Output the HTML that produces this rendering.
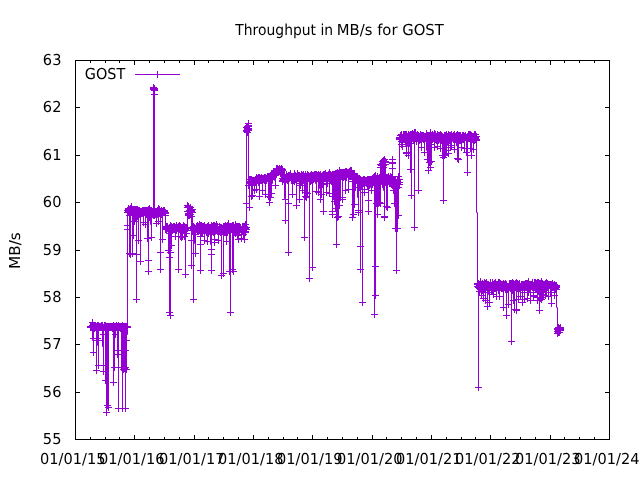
<!DOCTYPE html>
<html><head><meta charset="utf-8"><title>Throughput in MB/s for GOST</title>
<style>html,body{margin:0;padding:0;background:#fff}svg{display:block}text{font-family:"DejaVu Sans","Liberation Sans",sans-serif;font-size:15.1px;fill:#000;text-rendering:geometricPrecision}</style></head>
<body>
<svg width="640" height="480" viewBox="0 0 640 480">
<rect width="640" height="480" fill="#fff"/>
<g fill="none" stroke="#000" stroke-width="1" shape-rendering="crispEdges"><path d="M75.5 439.5v-4.5M75.5 60.5v4.5M134.5 439.5v-4.5M134.5 60.5v4.5M194.5 439.5v-4.5M194.5 60.5v4.5M253.5 439.5v-4.5M253.5 60.5v4.5M312.5 439.5v-4.5M312.5 60.5v4.5M372.5 439.5v-4.5M372.5 60.5v4.5M431.5 439.5v-4.5M431.5 60.5v4.5M490.5 439.5v-4.5M490.5 60.5v4.5M550.5 439.5v-4.5M550.5 60.5v4.5M609.5 439.5v-4.5M609.5 60.5v4.5M90.5 439.5v-2.5M90.5 60.5v2.5M105.5 439.5v-2.5M105.5 60.5v2.5M119.5 439.5v-2.5M119.5 60.5v2.5M149.5 439.5v-2.5M149.5 60.5v2.5M164.5 439.5v-2.5M164.5 60.5v2.5M179.5 439.5v-2.5M179.5 60.5v2.5M208.5 439.5v-2.5M208.5 60.5v2.5M223.5 439.5v-2.5M223.5 60.5v2.5M238.5 439.5v-2.5M238.5 60.5v2.5M268.5 439.5v-2.5M268.5 60.5v2.5M283.5 439.5v-2.5M283.5 60.5v2.5M297.5 439.5v-2.5M297.5 60.5v2.5M327.5 439.5v-2.5M327.5 60.5v2.5M342.5 439.5v-2.5M342.5 60.5v2.5M357.5 439.5v-2.5M357.5 60.5v2.5M386.5 439.5v-2.5M386.5 60.5v2.5M401.5 439.5v-2.5M401.5 60.5v2.5M416.5 439.5v-2.5M416.5 60.5v2.5M446.5 439.5v-2.5M446.5 60.5v2.5M461.5 439.5v-2.5M461.5 60.5v2.5M475.5 439.5v-2.5M475.5 60.5v2.5M505.5 439.5v-2.5M505.5 60.5v2.5M520.5 439.5v-2.5M520.5 60.5v2.5M535.5 439.5v-2.5M535.5 60.5v2.5M564.5 439.5v-2.5M564.5 60.5v2.5M579.5 439.5v-2.5M579.5 60.5v2.5M594.5 439.5v-2.5M594.5 60.5v2.5M75.5 439.5h4.5M609.5 439.5h-4.5M75.5 392.5h4.5M609.5 392.5h-4.5M75.5 344.5h4.5M609.5 344.5h-4.5M75.5 297.5h4.5M609.5 297.5h-4.5M75.5 250.5h4.5M609.5 250.5h-4.5M75.5 202.5h4.5M609.5 202.5h-4.5M75.5 155.5h4.5M609.5 155.5h-4.5M75.5 107.5h4.5M609.5 107.5h-4.5M75.5 60.5h4.5M609.5 60.5h-4.5"/><rect x="75.5" y="60.5" width="534" height="379"/></g>
<text transform="translate(42.85,444) scale(0.967,1)">55</text>
<text transform="translate(42.85,397) scale(0.967,1)">56</text>
<text transform="translate(42.85,349) scale(0.967,1)">57</text>
<text transform="translate(42.85,302) scale(0.967,1)">58</text>
<text transform="translate(42.85,255) scale(0.967,1)">59</text>
<text transform="translate(42.85,207) scale(0.967,1)">60</text>
<text transform="translate(42.85,160) scale(0.967,1)">61</text>
<text transform="translate(42.85,112) scale(0.967,1)">62</text>
<text transform="translate(42.85,65) scale(0.967,1)">63</text>
<text transform="translate(39.9,464) scale(0.967,1)">01/01/15</text>
<text transform="translate(98.9,464) scale(0.967,1)">01/01/16</text>
<text transform="translate(158.9,464) scale(0.967,1)">01/01/17</text>
<text transform="translate(217.9,464) scale(0.967,1)">01/01/18</text>
<text transform="translate(276.9,464) scale(0.967,1)">01/01/19</text>
<text transform="translate(336.9,464) scale(0.967,1)">01/01/20</text>
<text transform="translate(395.9,464) scale(0.967,1)">01/01/21</text>
<text transform="translate(454.9,464) scale(0.967,1)">01/01/22</text>
<text transform="translate(514.9,464) scale(0.967,1)">01/01/23</text>
<text transform="translate(573.9,464) scale(0.967,1)">01/01/24</text>
<text transform="translate(235.3,35) scale(0.921,1)">Throughput in</text>
<text transform="translate(336.8,35) scale(0.981,1)">MB/s for GOST</text>
<text transform="translate(20,268.9) rotate(-90) scale(1.01,1)">MB/s</text>
<text transform="translate(84.85,79) scale(0.955,1)">GOST</text>
<g fill="none" stroke="#9400d3" stroke-width="1">
<path d="M135 74.5H180M157.5 71v7"/>
<path stroke-linejoin="bevel" d="M90.5 326.5V327.5V326.5H91.5V327.5H92.5V325.5V327.5V322.5V327.5V340.5H93.5V352.5V325.5V326.5V338.5V327.5V326.5V327.5H94.5V327.5V326.5V327.5V326.5V328.5V328.5H95.5V327.5V326.5V327.5H96.5V327.5V326.5V370.5V326.5V340.5V333.5H97.5V326.5V327.5V338.5V325.5V326.5V327.5V325.5V345.5H98.5V365.5V326.5V340.5V326.5V325.5V326.5H99.5V327.5V326.5H100.5V327.5V326.5H101.5V327.5V325.5V327.5H102.5V325.5V327.5V326.5V346.5H103.5V365.5V334.5V327.5V371.5V327.5H104.5V325.5V327.5V326.5H105.5V325.5V326.5V327.5V380.5V326.5V327.5V327.5H106.5V326.5V412.5V327.5V326.5V327.5V327.5H107.5V326.5V405.5V326.5V327.5V326.5H108.5V327.5V407.5V326.5H109.5V327.5V326.5V327.5V326.5H110.5V327.5V326.5V327.5H111.5V327.5V326.5V327.5V326.5V327.5H112.5V328.5V327.5V326.5V327.5H113.5V327.5V326.5V382.5V328.5V325.5V326.5V327.5H114.5V327.5V326.5V367.5V327.5V327.5H115.5V326.5V334.5V327.5V326.5H116.5V325.5V326.5V327.5V326.5V327.5H117.5V354.5V326.5V327.5H118.5V325.5V408.5V350.5V327.5V325.5V326.5H119.5V327.5V326.5V327.5V326.5H120.5V327.5V326.5V328.5V326.5V327.5H121.5V327.5V326.5V367.5V327.5V326.5H122.5V325.5V408.5V326.5V325.5V326.5H123.5V327.5V369.5V326.5V327.5V348.5H124.5V368.5V326.5V327.5V326.5V347.5H125.5V367.5V350.5V326.5V408.5V327.5V327.5H126.5V326.5V327.5V369.5V327.5V326.5V340.5V334.5H127.5V327.5V326.5V210.5V225.5V229.5V212.5V210.5H128.5V208.5V210.5V211.5V209.5V210.5V208.5V209.5H129.5V210.5V211.5V209.5V253.5V215.5V211.5H130.5V209.5V254.5V211.5V210.5V208.5V210.5H131.5V211.5V209.5V208.5V210.5V206.5V210.5V211.5H132.5V211.5V210.5V253.5V209.5V214.5V210.5V211.5H133.5V211.5V235.5V212.5V211.5V210.5H134.5V209.5V221.5V212.5V211.5V214.5H135.5V217.5V209.5V211.5V214.5V210.5V211.5V211.5H136.5V210.5V209.5V254.5V299.5V210.5V211.5V214.5H137.5V216.5V209.5V211.5V212.5H138.5V210.5V240.5V213.5V216.5V211.5H139.5V214.5V213.5V212.5V210.5V213.5V212.5H140.5V211.5V261.5V211.5V214.5V213.5V214.5V214.5H141.5V213.5V211.5V213.5V212.5V213.5V212.5H142.5V211.5V212.5V213.5V210.5V212.5V213.5V213.5H143.5V212.5V213.5V222.5V210.5V215.5V213.5H144.5V211.5V210.5V211.5V212.5H145.5V212.5V210.5V212.5V224.5V214.5V213.5V212.5H146.5V210.5V214.5V211.5V210.5V214.5V213.5V212.5H147.5V211.5V210.5V238.5V212.5V210.5V211.5H148.5V211.5V214.5V212.5V271.5V260.5V209.5V210.5H149.5V210.5V212.5V213.5V217.5V213.5V208.5V212.5V214.5H150.5V215.5V213.5V212.5V210.5V224.5H151.5V237.5V215.5V210.5V212.5V211.5V216.5V212.5V212.5H152.5V211.5V213.5V211.5V214.5V211.5V212.5H153.5V212.5V211.5V215.5V88.5V89.5V87.5V89.5H154.5V90.5V89.5V88.5V94.5V212.5V215.5V214.5H155.5V213.5V211.5V213.5V211.5V214.5V211.5V212.5H156.5V212.5V213.5V211.5V223.5V211.5V213.5V212.5V212.5H157.5V211.5V213.5V210.5V212.5V211.5V212.5V217.5H158.5V221.5V213.5V212.5V213.5V208.5V213.5V213.5H159.5V212.5V211.5V212.5V213.5V209.5V211.5H160.5V212.5V269.5V214.5V252.5V214.5V212.5V213.5H161.5V213.5V210.5V211.5V214.5V213.5V212.5V213.5H162.5V213.5V239.5V214.5V211.5V212.5V213.5V212.5H163.5V211.5V212.5V210.5V212.5V211.5H164.5V210.5V211.5V212.5V211.5V210.5V213.5H165.5V215.5V212.5V213.5V228.5V229.5V229.5H166.5V228.5V229.5V226.5V227.5V228.5V229.5V229.5H167.5V228.5V227.5V226.5V228.5H168.5V229.5V228.5V250.5V230.5V228.5V231.5H169.5V233.5V257.5V229.5V227.5V312.5V227.5V230.5V230.5H170.5V229.5V315.5V225.5V228.5V227.5V252.5V240.5H171.5V228.5V229.5V245.5V226.5V227.5V229.5V230.5H172.5V230.5V228.5V230.5V227.5V228.5V228.5H173.5V227.5V228.5V227.5V226.5V229.5V228.5H174.5V226.5V229.5V228.5V227.5V229.5V229.5H175.5V228.5V236.5V229.5V228.5V227.5V228.5H176.5V229.5V230.5V226.5V229.5V228.5V225.5V227.5H177.5V228.5H178.5V227.5V269.5V226.5V227.5V227.5H179.5V226.5V228.5V227.5V225.5V229.5V228.5V232.5H180.5V236.5V226.5V229.5V228.5V228.5H181.5V227.5V237.5V228.5V227.5V228.5V228.5H182.5V227.5V236.5V227.5V229.5V227.5V228.5V227.5V228.5H183.5V228.5V227.5V226.5V227.5V229.5V225.5V228.5H184.5V230.5V228.5V226.5V236.5V226.5V227.5H185.5V228.5V274.5V230.5V228.5V229.5V228.5H186.5V227.5V228.5V233.5V228.5V227.5V228.5H187.5V228.5V211.5V207.5V205.5V211.5V212.5H188.5V213.5V206.5V214.5V215.5V213.5V212.5H189.5V211.5V214.5V215.5V213.5V214.5V210.5V210.5H190.5V209.5V207.5V209.5V214.5V213.5H191.5V211.5V265.5V216.5V211.5V240.5V210.5V210.5H192.5V209.5V212.5V230.5V228.5V229.5H193.5V229.5V226.5V227.5V299.5V229.5H194.5V227.5V228.5V232.5V243.5H195.5V253.5V231.5V229.5V234.5V230.5V229.5V230.5V228.5H196.5V226.5V228.5V229.5V228.5V227.5H197.5V225.5V229.5V231.5V229.5V227.5V225.5V226.5H198.5V226.5V228.5V231.5V229.5V228.5H199.5V224.5V230.5V227.5V226.5V226.5H200.5V225.5V270.5V244.5V230.5V236.5V231.5V230.5H201.5V229.5V232.5V229.5V230.5V225.5V228.5H202.5V230.5V231.5V233.5V226.5V229.5V226.5H203.5V229.5V228.5V230.5V228.5V228.5H204.5V227.5V225.5V240.5V225.5V230.5V227.5V228.5H205.5V228.5V230.5V227.5V229.5V228.5V229.5V228.5H206.5V227.5V229.5V227.5V229.5V232.5V228.5H207.5V229.5V226.5V241.5V232.5V228.5V231.5H208.5V233.5V230.5V228.5V229.5V225.5V228.5V229.5H209.5V230.5V228.5V227.5V228.5V229.5V230.5V230.5H210.5V229.5V228.5V227.5V231.5V234.5V244.5H211.5V254.5V270.5V249.5V225.5V228.5V229.5H212.5V230.5V229.5V226.5V228.5V227.5V227.5H213.5V226.5V230.5V229.5V232.5V227.5V225.5V226.5H214.5V227.5V229.5V225.5V230.5V239.5V242.5V234.5H215.5V226.5V230.5V227.5V226.5V229.5V228.5V229.5V227.5H216.5V224.5V226.5V227.5V226.5V230.5V229.5H217.5V228.5V229.5V227.5V230.5V231.5V226.5V228.5H218.5V230.5V240.5V232.5V229.5V232.5V231.5H219.5V226.5V229.5V227.5V231.5V227.5V228.5H220.5V229.5V227.5V230.5V232.5V231.5H221.5V229.5V228.5V231.5V275.5V227.5V232.5V231.5H222.5V230.5V231.5V228.5V229.5V230.5V231.5H223.5V231.5V232.5V231.5V273.5V231.5V226.5V227.5H224.5V228.5V226.5V230.5V227.5V232.5V230.5V228.5H225.5V226.5V229.5V232.5V229.5V227.5V225.5V227.5H226.5V229.5V228.5V231.5V241.5V226.5V233.5V231.5H227.5V229.5V228.5V226.5V232.5V225.5V228.5V227.5H228.5V226.5V230.5V229.5V227.5V223.5V228.5V229.5H229.5V230.5V226.5V271.5V229.5V231.5V229.5H230.5V227.5V231.5V227.5V312.5V226.5V227.5H231.5V229.5V227.5V228.5H232.5V228.5V230.5V269.5V229.5V225.5V227.5H233.5V228.5V225.5V271.5V228.5V229.5V232.5V231.5H234.5V229.5V228.5V232.5V229.5H235.5V233.5V226.5V224.5V230.5V231.5V228.5V229.5H236.5V230.5V229.5V231.5V227.5V226.5V230.5V229.5H237.5V227.5V231.5V226.5V231.5V235.5V228.5V229.5H238.5V229.5V227.5V239.5V226.5V230.5V227.5V229.5H239.5V231.5V227.5V226.5V230.5V232.5V229.5V228.5H240.5V227.5V228.5V227.5V229.5V227.5V228.5H241.5V229.5V231.5V229.5V230.5V238.5V229.5H242.5V231.5V226.5V228.5V229.5V230.5V227.5V228.5H243.5V228.5V234.5V230.5V226.5V227.5V229.5H244.5V231.5V239.5V227.5V229.5V226.5V231.5V228.5H245.5V224.5V231.5V229.5V224.5V232.5V228.5V229.5H246.5V229.5V203.5V227.5V127.5V130.5V131.5V130.5H247.5V128.5V132.5V130.5V128.5V126.5V129.5V126.5H248.5V123.5V125.5V126.5V128.5V130.5V129.5V185.5V183.5H249.5V181.5V183.5V179.5V207.5V181.5V180.5H250.5V179.5V181.5V182.5V181.5H251.5V196.5V180.5V183.5V179.5V180.5V181.5H252.5V181.5V180.5V195.5V180.5V181.5V181.5H253.5V180.5V182.5V181.5V182.5V180.5V181.5H254.5V182.5V180.5V190.5V181.5V180.5V181.5H255.5V182.5V180.5V179.5V180.5V182.5V182.5H256.5V181.5V189.5V177.5V180.5V179.5H257.5V178.5V179.5V178.5V179.5V180.5V179.5H258.5V178.5V179.5V178.5V177.5V179.5V182.5V181.5H259.5V179.5V180.5V196.5V181.5V178.5V177.5V178.5H260.5V178.5V179.5V178.5V179.5V180.5H261.5V177.5V180.5V178.5V177.5V178.5H262.5V179.5V190.5V178.5V179.5H263.5V179.5V178.5V179.5V178.5V179.5H264.5V180.5V177.5V178.5V177.5H265.5V179.5V194.5V179.5V179.5H266.5V178.5V179.5V178.5V180.5V179.5V178.5H267.5V176.5V177.5V176.5V178.5V177.5H268.5V176.5V179.5V196.5V177.5V181.5V178.5H269.5V202.5V178.5H270.5V197.5V175.5V177.5V175.5V177.5V176.5H271.5V175.5V177.5V173.5V176.5V193.5V183.5H272.5V173.5V175.5V176.5V174.5V177.5V176.5V175.5H273.5V173.5V176.5V174.5V176.5V174.5H274.5V172.5V175.5V171.5V174.5V175.5V180.5H275.5V185.5V172.5V174.5V175.5V172.5V171.5V173.5V174.5H276.5V174.5V170.5V169.5V168.5V172.5V170.5V171.5H277.5V172.5V169.5V170.5V168.5V169.5V170.5V170.5H278.5V169.5V170.5V169.5V171.5V170.5H279.5V169.5V168.5V169.5V170.5H280.5V171.5V169.5V171.5V170.5V171.5V173.5H281.5V174.5V169.5V168.5V171.5V174.5V172.5H282.5V169.5V170.5V169.5V181.5V178.5V180.5V178.5H283.5V175.5V179.5V176.5V175.5V179.5V178.5V177.5H284.5V175.5V178.5V176.5V179.5V176.5V198.5H285.5V220.5V199.5V178.5V177.5V178.5V179.5H286.5V179.5V177.5V176.5V177.5V176.5V174.5V177.5H287.5V180.5V176.5V177.5V176.5V177.5H288.5V178.5V203.5V252.5V176.5V180.5V175.5V177.5V178.5H289.5V178.5V176.5V175.5V176.5V178.5V177.5H290.5V175.5V177.5V173.5V177.5V177.5H291.5V176.5V178.5V177.5V180.5V177.5V178.5V178.5H292.5V177.5V176.5V177.5V179.5V194.5V180.5V179.5H293.5V177.5V179.5V180.5V177.5V180.5V179.5H294.5V177.5V176.5V177.5V181.5V173.5V176.5H295.5V179.5V178.5V175.5V178.5V177.5V177.5H296.5V176.5V177.5V179.5V205.5V176.5V177.5V178.5H297.5V178.5V176.5V173.5V178.5V177.5H298.5V176.5V178.5V175.5V176.5V175.5V177.5V177.5H299.5V176.5V177.5V199.5V176.5V175.5V176.5H300.5V177.5V183.5V177.5V176.5V185.5V182.5H301.5V179.5V174.5V181.5V178.5V176.5V178.5V184.5H302.5V190.5V176.5V177.5V175.5V176.5V178.5V179.5H303.5V180.5V176.5V178.5V174.5V175.5V177.5V177.5H304.5V176.5V237.5V178.5V183.5V179.5V178.5H305.5V177.5V175.5V196.5V175.5V174.5V175.5H306.5V176.5V179.5V192.5V178.5V181.5V197.5V188.5H307.5V179.5V176.5V193.5V174.5V177.5H308.5V176.5V177.5V175.5V176.5V177.5H309.5V177.5V176.5V177.5V278.5V178.5V176.5H310.5V178.5V175.5V181.5V181.5H311.5V180.5V178.5V175.5V174.5V176.5V178.5V179.5H312.5V180.5V177.5V178.5V267.5V175.5V180.5V178.5H313.5V175.5V179.5V178.5V177.5V177.5H314.5V176.5V174.5V176.5V178.5V175.5V176.5H315.5V177.5V176.5V175.5V174.5V183.5H316.5V191.5V178.5V177.5V180.5V174.5V176.5V175.5V177.5H317.5V178.5V175.5V178.5V177.5V176.5V175.5H318.5V174.5V192.5V179.5V177.5H319.5V178.5V175.5V176.5V179.5V177.5V188.5H320.5V199.5V174.5V176.5V180.5V176.5V175.5V185.5H321.5V194.5V177.5V176.5V177.5V179.5V177.5V181.5H322.5V184.5V175.5V177.5V176.5V175.5H323.5V174.5V211.5V176.5V178.5V177.5V177.5H324.5V176.5V177.5V178.5V176.5V174.5V175.5H325.5V175.5V176.5V177.5V178.5V176.5V173.5V175.5H326.5V176.5V177.5V178.5V192.5V180.5V179.5V178.5H327.5V177.5V176.5V183.5V175.5V176.5V177.5H328.5V176.5V174.5V176.5V175.5V176.5H329.5V174.5V193.5V172.5V178.5V177.5H330.5V175.5V174.5V177.5V180.5V178.5V177.5V178.5H331.5V178.5V176.5V181.5V178.5H332.5V174.5V214.5V211.5V178.5V175.5V178.5V179.5H333.5V180.5V174.5V176.5V196.5V177.5V179.5V178.5H334.5V177.5V175.5V178.5V201.5V176.5V174.5V176.5V176.5H335.5V175.5V173.5V208.5V176.5V174.5V177.5V178.5H336.5V178.5V176.5V182.5V244.5V177.5V174.5H337.5V217.5V177.5V172.5V182.5V179.5H338.5V175.5V174.5V173.5V216.5V174.5V173.5H339.5V172.5V170.5V174.5V205.5V173.5V175.5H340.5V172.5V178.5V197.5V172.5V178.5V173.5H341.5V176.5V172.5V175.5V176.5V174.5V173.5H342.5V172.5V173.5V199.5V176.5V197.5V175.5V174.5H343.5V172.5V177.5V175.5V172.5V174.5V176.5V175.5H344.5V173.5V172.5V173.5V172.5V174.5V176.5V174.5H345.5V171.5V174.5V190.5V172.5V173.5V174.5H346.5V175.5V177.5V175.5V172.5V175.5V171.5V173.5H347.5V174.5V173.5V172.5V174.5V174.5H348.5V173.5V172.5V173.5V189.5V174.5V175.5V175.5H349.5V174.5V173.5V175.5V171.5V174.5V174.5H350.5V173.5V172.5V176.5V172.5V171.5V170.5V171.5H351.5V172.5V173.5V172.5V176.5V175.5V170.5V176.5H352.5V181.5V217.5V178.5V174.5V179.5V175.5V195.5H353.5V214.5V178.5V175.5V181.5V193.5H354.5V204.5V178.5V173.5V175.5V177.5H355.5V179.5V187.5V178.5V180.5V176.5V178.5H356.5V180.5V179.5V177.5V180.5V178.5H357.5V176.5V181.5V178.5V179.5V177.5V181.5V197.5H358.5V212.5V178.5V179.5V210.5V180.5V184.5H359.5V187.5V182.5V183.5V180.5V178.5V180.5H360.5V181.5V246.5V269.5V181.5V179.5V182.5V184.5V185.5H361.5V185.5V180.5V182.5V180.5V181.5V181.5H362.5V180.5V302.5V181.5V183.5V181.5V180.5H363.5V179.5V181.5V180.5V183.5V180.5V185.5H364.5V189.5V179.5V192.5V181.5V182.5V181.5V182.5H365.5V180.5V182.5V181.5V181.5H366.5V180.5V183.5V182.5V181.5V180.5V183.5V183.5H367.5V182.5V180.5V182.5V183.5V185.5V182.5V179.5V180.5H368.5V181.5V180.5V211.5V200.5V179.5V181.5H369.5V182.5V185.5V181.5V179.5V180.5H370.5V181.5V179.5V183.5V181.5V183.5V187.5H371.5V190.5V181.5V183.5V181.5V179.5V183.5V184.5H372.5V184.5V180.5V181.5V181.5H373.5V180.5V181.5V180.5V177.5V182.5V177.5H374.5V314.5V177.5V178.5V176.5V183.5V225.5H375.5V266.5V180.5V295.5V180.5V175.5V177.5H376.5V178.5V179.5V178.5V203.5V181.5V180.5H377.5V178.5V180.5V176.5V214.5V177.5V178.5V180.5H378.5V181.5V179.5V203.5V180.5V179.5V180.5H379.5V181.5V179.5V202.5V177.5V180.5V179.5H380.5V178.5V203.5V164.5V179.5V181.5V167.5V172.5H381.5V176.5V164.5V178.5V165.5V181.5V171.5H382.5V161.5V164.5V184.5V163.5V177.5V172.5H383.5V167.5V162.5V160.5V165.5V161.5V162.5V190.5H384.5V217.5V216.5V159.5V161.5V164.5V162.5H385.5V182.5V164.5V162.5V161.5V164.5V185.5H386.5V206.5V181.5V182.5V178.5V177.5V180.5H387.5V182.5V178.5V184.5V183.5V177.5V207.5V182.5V182.5H388.5V181.5V177.5V181.5V176.5V180.5V179.5H389.5V178.5V181.5V183.5V178.5V177.5H390.5V176.5V181.5V180.5V178.5V177.5V179.5V181.5H391.5V183.5V181.5V182.5V183.5V177.5V177.5H392.5V176.5V159.5V162.5V163.5V168.5V182.5V184.5H393.5V185.5V190.5V186.5V183.5V185.5V184.5V186.5H394.5V187.5V184.5V203.5V181.5V183.5V187.5V188.5H395.5V188.5V181.5V228.5V183.5V180.5V181.5V182.5H396.5V183.5V188.5V185.5V270.5V184.5V185.5V183.5H397.5V180.5V183.5V228.5V184.5V181.5V183.5V183.5H398.5V182.5V215.5V182.5V176.5V182.5V187.5V185.5H399.5V182.5V179.5V184.5V139.5V138.5V137.5H400.5V135.5V138.5V139.5V135.5V137.5H401.5V144.5V138.5V141.5V135.5V134.5V140.5H402.5V146.5V138.5V137.5V140.5V137.5V140.5V140.5H403.5V139.5V134.5V137.5V138.5V139.5V139.5H404.5V138.5V134.5V137.5V136.5V139.5V135.5V137.5H405.5V138.5V135.5V134.5V140.5V135.5V137.5V145.5H406.5V152.5V135.5V134.5V138.5V153.5V137.5V139.5V139.5H407.5V138.5V140.5V141.5V140.5V137.5V136.5V146.5H408.5V155.5V138.5V134.5V136.5V134.5V135.5V138.5H409.5V140.5V143.5V137.5V135.5V137.5V139.5V137.5H410.5V135.5V136.5V139.5V134.5V169.5V140.5V168.5H411.5V195.5V136.5V134.5V135.5V138.5V137.5H412.5V136.5V134.5V137.5V136.5V133.5V138.5V136.5H413.5V134.5V138.5V136.5V138.5V139.5V136.5V140.5V136.5H414.5V132.5V137.5V227.5V138.5V136.5V139.5V137.5H415.5V135.5V137.5V135.5V132.5V136.5V135.5H416.5V139.5V136.5V137.5V141.5V138.5V138.5H417.5V137.5V136.5V134.5V137.5V136.5V139.5H418.5V141.5V135.5V190.5V137.5V138.5H419.5V136.5V140.5V136.5V138.5V137.5V137.5H420.5V136.5V137.5V136.5V139.5V134.5V138.5V137.5V136.5H421.5V135.5V147.5V137.5V135.5V136.5H422.5V137.5V136.5V137.5V136.5V135.5V138.5V138.5H423.5V137.5V135.5V137.5V138.5V135.5V139.5H424.5V152.5V139.5V137.5V136.5V137.5H425.5V137.5V138.5V137.5V136.5V135.5H426.5V133.5V135.5V140.5V139.5V138.5V141.5V150.5H427.5V159.5V137.5V136.5V138.5V140.5V139.5H428.5V137.5V170.5V135.5V139.5V138.5H429.5V136.5V138.5V162.5V137.5V138.5V137.5V138.5H430.5V138.5V167.5V144.5V137.5V139.5V132.5V135.5H431.5V137.5V161.5V136.5V137.5V141.5V137.5V138.5H432.5V139.5V137.5V134.5V137.5V138.5H433.5V138.5V137.5V135.5V137.5V139.5H434.5V140.5V133.5V147.5V137.5V138.5V137.5V138.5H435.5V138.5V135.5V138.5V134.5V137.5V139.5V140.5H436.5V140.5V136.5V137.5V138.5V139.5H437.5V139.5V138.5V137.5V146.5V136.5V134.5V136.5H438.5V137.5V135.5V137.5V138.5V137.5V140.5V139.5H439.5V137.5V136.5V137.5V136.5V137.5V135.5V142.5H440.5V148.5V141.5V139.5V134.5V140.5V135.5H441.5V138.5V140.5V138.5V135.5V138.5V137.5H442.5V136.5V137.5V155.5V137.5H443.5V138.5V137.5V200.5V157.5V137.5H444.5V135.5V155.5V135.5V139.5V138.5H445.5V136.5V135.5V139.5V154.5V136.5V135.5H446.5V134.5V150.5V138.5V139.5V137.5V138.5V138.5H447.5V137.5V136.5V139.5V138.5V136.5V145.5H448.5V153.5V138.5V134.5V136.5V141.5V139.5H449.5V137.5V140.5V135.5V138.5V143.5H450.5V147.5V135.5V138.5V137.5V136.5H451.5V134.5V140.5V135.5V134.5V145.5V141.5H452.5V137.5V136.5V137.5V136.5V137.5H453.5V138.5V137.5V136.5V135.5V136.5H454.5V137.5V138.5V137.5V149.5V134.5V136.5H455.5V137.5V136.5V139.5V137.5V138.5H456.5V139.5V138.5V135.5V136.5V138.5V142.5V139.5H457.5V135.5V158.5V134.5V137.5V135.5V136.5V137.5H458.5V138.5V159.5V137.5V135.5V140.5V139.5H459.5V137.5V139.5V138.5V135.5V140.5V140.5H460.5V139.5V140.5V136.5V135.5V137.5V138.5H461.5V138.5V147.5V142.5V138.5V137.5V136.5H462.5V135.5V137.5V136.5V139.5V135.5V136.5H463.5V136.5V135.5V136.5V142.5H464.5V148.5V136.5V139.5V137.5V136.5V137.5H465.5V135.5V137.5V136.5V135.5V137.5H466.5V138.5V139.5V140.5V152.5V144.5H467.5V136.5V137.5V172.5V137.5V140.5V137.5H468.5V134.5V136.5V135.5V138.5V135.5V137.5H469.5V138.5V137.5V138.5V134.5H470.5V136.5V134.5V136.5V148.5V140.5V139.5H471.5V137.5V155.5V138.5V135.5V139.5V138.5H472.5V136.5V137.5V139.5V136.5V137.5H473.5V137.5V149.5V139.5V138.5V136.5V138.5V137.5H474.5V136.5V137.5V140.5V137.5V134.5V135.5H475.5V136.5V139.5V138.5V136.5V137.5V134.5V137.5H476.5V139.5V136.5V140.5V212.5H477.5V283.5V286.5V284.5V286.5H478.5V287.5V284.5V286.5V387.5V284.5V283.5V286.5H479.5V288.5V284.5V288.5V291.5V285.5V286.5V286.5H480.5V285.5V281.5V286.5V285.5V286.5V288.5V292.5H481.5V295.5V287.5V286.5V289.5V285.5V284.5H482.5V283.5V284.5V287.5V285.5V286.5V290.5V288.5H483.5V286.5V298.5V285.5V287.5V286.5V284.5H484.5V282.5V286.5V282.5V288.5V284.5V285.5H485.5V300.5V285.5V284.5V283.5V290.5V287.5H486.5V284.5V285.5V287.5V286.5V282.5V285.5V285.5H487.5V284.5V285.5V292.5V306.5V287.5V288.5H488.5V288.5V284.5V289.5V286.5V294.5H489.5V302.5V286.5V285.5V286.5V288.5V289.5V286.5H490.5V283.5V282.5V284.5V286.5V284.5V287.5H491.5V290.5V287.5V285.5V288.5H492.5V290.5V286.5V285.5V282.5V286.5H493.5V287.5V284.5V294.5V285.5V287.5H494.5V288.5V285.5V286.5V284.5V286.5V283.5V283.5H495.5V282.5V286.5V287.5V288.5V286.5V286.5H496.5V285.5V287.5V284.5V296.5V290.5V284.5V286.5H497.5V287.5V285.5V286.5V284.5V283.5H498.5V282.5V289.5V287.5V283.5V284.5V290.5V288.5H499.5V286.5V285.5V284.5V285.5V296.5V282.5V287.5V286.5H500.5V285.5V286.5V287.5V283.5V284.5V286.5V286.5H501.5V285.5V287.5V284.5V288.5V287.5V288.5V288.5H502.5V287.5V284.5V287.5V288.5V285.5V284.5H503.5V283.5V285.5V286.5V307.5V284.5V283.5V284.5H504.5V284.5V286.5V285.5V284.5V287.5V287.5H505.5V286.5V285.5V284.5V283.5V286.5V287.5V289.5V287.5H506.5V284.5V315.5V285.5V286.5V288.5V284.5V285.5H507.5V286.5V289.5V287.5V288.5V287.5H508.5V288.5V304.5V287.5V286.5V286.5H509.5V285.5V287.5V283.5V287.5V286.5V287.5H510.5V287.5V284.5V283.5V288.5V284.5H511.5V341.5V284.5V283.5V289.5V286.5V285.5H512.5V284.5V288.5V284.5V290.5V285.5V282.5V287.5V285.5H513.5V283.5V300.5V285.5V287.5V285.5V287.5V286.5H514.5V284.5V288.5V309.5V284.5V285.5V284.5V285.5H515.5V285.5V283.5V285.5V284.5V285.5V286.5V285.5H516.5V283.5V309.5V285.5V310.5V282.5V286.5V287.5H517.5V287.5V283.5V288.5V286.5V288.5V283.5V284.5H518.5V284.5V290.5V286.5V288.5V299.5V288.5V287.5V286.5H519.5V284.5V286.5V288.5V283.5V284.5V286.5H520.5V287.5V296.5V288.5V286.5V288.5V288.5H521.5V287.5V284.5V285.5V286.5V287.5V285.5V285.5H522.5V284.5V286.5V284.5V302.5V285.5H523.5V286.5V284.5V285.5V287.5V288.5H524.5V289.5V285.5V292.5V299.5V284.5V285.5H525.5V286.5V285.5V283.5V287.5V285.5V284.5H526.5V283.5V284.5V286.5V284.5V287.5V285.5V284.5H527.5V283.5V298.5V286.5V289.5V284.5V288.5H528.5V292.5V285.5V286.5V285.5V287.5V281.5V285.5H529.5V288.5V287.5V288.5V284.5V286.5V285.5H530.5V284.5V288.5V300.5V284.5V286.5V285.5V285.5H531.5V284.5V285.5V284.5V285.5V286.5H532.5V283.5V282.5V286.5V284.5V287.5V286.5H533.5V285.5V292.5V296.5V285.5V287.5V295.5V289.5H534.5V282.5V287.5V286.5V284.5V287.5V286.5H535.5V289.5V283.5V282.5V286.5H536.5V283.5V287.5V284.5V287.5V286.5H537.5V284.5V297.5V285.5V282.5V284.5V300.5V292.5H538.5V284.5V291.5V285.5V282.5V284.5V288.5V284.5V285.5H539.5V285.5V310.5V285.5V283.5V288.5V284.5H540.5V290.5V298.5V286.5V283.5V287.5V288.5H541.5V288.5V286.5V283.5V299.5V281.5V283.5V285.5H542.5V286.5V297.5V284.5V285.5V283.5V289.5H543.5V294.5V285.5V286.5V284.5V285.5V285.5H544.5V284.5V287.5V288.5V286.5H545.5V283.5V287.5V286.5V284.5V295.5V287.5V286.5V285.5H546.5V284.5V282.5V288.5V286.5V292.5V286.5V285.5H547.5V284.5V286.5V284.5V285.5V283.5V287.5V286.5H548.5V284.5V285.5V296.5V286.5V288.5V286.5V285.5H549.5V284.5V285.5V284.5V285.5V285.5H550.5V284.5V285.5V288.5V286.5V292.5V290.5H551.5V288.5V286.5V303.5V287.5V284.5V285.5V284.5V285.5H552.5V286.5V283.5V287.5V286.5V287.5H553.5V287.5V286.5V285.5V287.5V287.5H554.5V286.5V295.5V284.5V286.5V288.5V285.5H555.5V286.5V287.5V288.5V289.5H556.5V287.5V285.5V286.5V285.5V307.5H557.5V328.5V329.5V333.5V331.5V329.5H558.5V328.5V327.5V328.5V332.5V330.5V328.5V329.5H559.5V330.5V332.5V328.5V329.5V330.5V330.5H560.5V329.5V328.5V327.5V330.5"/>
<path d="M87 326.5h7m-3.5 -3.5v7M87 327.5h7m-3.5 -3.5v7M88 326.5h7m-3.5 -3.5v7M88 327.5h7m-3.5 -3.5v7M89 327.5h7m-3.5 -3.5v7M89 325.5h7m-3.5 -3.5v7M89 322.5h7m-3.5 -3.5v7M90 352.5h7m-3.5 -3.5v7M90 325.5h7m-3.5 -3.5v7M90 326.5h7m-3.5 -3.5v7M90 338.5h7m-3.5 -3.5v7M90 327.5h7m-3.5 -3.5v7M91 327.5h7m-3.5 -3.5v7M91 326.5h7m-3.5 -3.5v7M91 328.5h7m-3.5 -3.5v7M92 327.5h7m-3.5 -3.5v7M92 326.5h7m-3.5 -3.5v7M93 327.5h7m-3.5 -3.5v7M93 326.5h7m-3.5 -3.5v7M93 370.5h7m-3.5 -3.5v7M93 340.5h7m-3.5 -3.5v7M94 326.5h7m-3.5 -3.5v7M94 327.5h7m-3.5 -3.5v7M94 338.5h7m-3.5 -3.5v7M94 325.5h7m-3.5 -3.5v7M95 365.5h7m-3.5 -3.5v7M95 326.5h7m-3.5 -3.5v7M95 340.5h7m-3.5 -3.5v7M95 325.5h7m-3.5 -3.5v7M96 327.5h7m-3.5 -3.5v7M96 326.5h7m-3.5 -3.5v7M97 326.5h7m-3.5 -3.5v7M97 327.5h7m-3.5 -3.5v7M98 326.5h7m-3.5 -3.5v7M98 327.5h7m-3.5 -3.5v7M98 325.5h7m-3.5 -3.5v7M99 327.5h7m-3.5 -3.5v7M99 325.5h7m-3.5 -3.5v7M99 326.5h7m-3.5 -3.5v7M100 365.5h7m-3.5 -3.5v7M100 334.5h7m-3.5 -3.5v7M100 327.5h7m-3.5 -3.5v7M100 371.5h7m-3.5 -3.5v7M101 327.5h7m-3.5 -3.5v7M101 325.5h7m-3.5 -3.5v7M102 325.5h7m-3.5 -3.5v7M102 326.5h7m-3.5 -3.5v7M102 327.5h7m-3.5 -3.5v7M102 380.5h7m-3.5 -3.5v7M103 326.5h7m-3.5 -3.5v7M103 412.5h7m-3.5 -3.5v7M103 327.5h7m-3.5 -3.5v7M104 326.5h7m-3.5 -3.5v7M104 405.5h7m-3.5 -3.5v7M104 327.5h7m-3.5 -3.5v7M105 326.5h7m-3.5 -3.5v7M105 327.5h7m-3.5 -3.5v7M105 407.5h7m-3.5 -3.5v7M106 326.5h7m-3.5 -3.5v7M106 327.5h7m-3.5 -3.5v7M107 326.5h7m-3.5 -3.5v7M107 327.5h7m-3.5 -3.5v7M108 327.5h7m-3.5 -3.5v7M108 326.5h7m-3.5 -3.5v7M109 327.5h7m-3.5 -3.5v7M109 328.5h7m-3.5 -3.5v7M109 326.5h7m-3.5 -3.5v7M110 327.5h7m-3.5 -3.5v7M110 326.5h7m-3.5 -3.5v7M110 382.5h7m-3.5 -3.5v7M110 328.5h7m-3.5 -3.5v7M110 325.5h7m-3.5 -3.5v7M111 327.5h7m-3.5 -3.5v7M111 326.5h7m-3.5 -3.5v7M111 367.5h7m-3.5 -3.5v7M112 326.5h7m-3.5 -3.5v7M112 334.5h7m-3.5 -3.5v7M112 327.5h7m-3.5 -3.5v7M113 326.5h7m-3.5 -3.5v7M113 325.5h7m-3.5 -3.5v7M113 327.5h7m-3.5 -3.5v7M114 327.5h7m-3.5 -3.5v7M114 354.5h7m-3.5 -3.5v7M114 326.5h7m-3.5 -3.5v7M115 327.5h7m-3.5 -3.5v7M115 325.5h7m-3.5 -3.5v7M115 408.5h7m-3.5 -3.5v7M115 350.5h7m-3.5 -3.5v7M116 327.5h7m-3.5 -3.5v7M116 326.5h7m-3.5 -3.5v7M117 326.5h7m-3.5 -3.5v7M117 327.5h7m-3.5 -3.5v7M117 328.5h7m-3.5 -3.5v7M118 327.5h7m-3.5 -3.5v7M118 326.5h7m-3.5 -3.5v7M118 367.5h7m-3.5 -3.5v7M119 325.5h7m-3.5 -3.5v7M119 408.5h7m-3.5 -3.5v7M119 326.5h7m-3.5 -3.5v7M120 327.5h7m-3.5 -3.5v7M120 369.5h7m-3.5 -3.5v7M120 326.5h7m-3.5 -3.5v7M121 368.5h7m-3.5 -3.5v7M121 326.5h7m-3.5 -3.5v7M121 327.5h7m-3.5 -3.5v7M122 367.5h7m-3.5 -3.5v7M122 350.5h7m-3.5 -3.5v7M122 326.5h7m-3.5 -3.5v7M122 408.5h7m-3.5 -3.5v7M122 327.5h7m-3.5 -3.5v7M123 326.5h7m-3.5 -3.5v7M123 327.5h7m-3.5 -3.5v7M123 369.5h7m-3.5 -3.5v7M123 340.5h7m-3.5 -3.5v7M124 327.5h7m-3.5 -3.5v7M124 326.5h7m-3.5 -3.5v7M124 210.5h7m-3.5 -3.5v7M124 225.5h7m-3.5 -3.5v7M124 229.5h7m-3.5 -3.5v7M124 212.5h7m-3.5 -3.5v7M125 208.5h7m-3.5 -3.5v7M125 210.5h7m-3.5 -3.5v7M125 211.5h7m-3.5 -3.5v7M125 209.5h7m-3.5 -3.5v7M126 210.5h7m-3.5 -3.5v7M126 211.5h7m-3.5 -3.5v7M126 209.5h7m-3.5 -3.5v7M126 253.5h7m-3.5 -3.5v7M126 215.5h7m-3.5 -3.5v7M127 211.5h7m-3.5 -3.5v7M127 209.5h7m-3.5 -3.5v7M127 254.5h7m-3.5 -3.5v7M127 210.5h7m-3.5 -3.5v7M127 208.5h7m-3.5 -3.5v7M128 211.5h7m-3.5 -3.5v7M128 209.5h7m-3.5 -3.5v7M128 208.5h7m-3.5 -3.5v7M128 210.5h7m-3.5 -3.5v7M128 206.5h7m-3.5 -3.5v7M129 211.5h7m-3.5 -3.5v7M129 210.5h7m-3.5 -3.5v7M129 253.5h7m-3.5 -3.5v7M129 209.5h7m-3.5 -3.5v7M129 214.5h7m-3.5 -3.5v7M130 211.5h7m-3.5 -3.5v7M130 235.5h7m-3.5 -3.5v7M130 212.5h7m-3.5 -3.5v7M130 210.5h7m-3.5 -3.5v7M131 210.5h7m-3.5 -3.5v7M131 209.5h7m-3.5 -3.5v7M131 221.5h7m-3.5 -3.5v7M131 212.5h7m-3.5 -3.5v7M131 211.5h7m-3.5 -3.5v7M132 217.5h7m-3.5 -3.5v7M132 209.5h7m-3.5 -3.5v7M132 211.5h7m-3.5 -3.5v7M132 214.5h7m-3.5 -3.5v7M132 210.5h7m-3.5 -3.5v7M133 210.5h7m-3.5 -3.5v7M133 209.5h7m-3.5 -3.5v7M133 254.5h7m-3.5 -3.5v7M133 299.5h7m-3.5 -3.5v7M133 211.5h7m-3.5 -3.5v7M134 216.5h7m-3.5 -3.5v7M134 209.5h7m-3.5 -3.5v7M134 211.5h7m-3.5 -3.5v7M134 212.5h7m-3.5 -3.5v7M135 212.5h7m-3.5 -3.5v7M135 210.5h7m-3.5 -3.5v7M135 240.5h7m-3.5 -3.5v7M135 213.5h7m-3.5 -3.5v7M135 216.5h7m-3.5 -3.5v7M135 211.5h7m-3.5 -3.5v7M136 211.5h7m-3.5 -3.5v7M136 214.5h7m-3.5 -3.5v7M136 213.5h7m-3.5 -3.5v7M136 212.5h7m-3.5 -3.5v7M136 210.5h7m-3.5 -3.5v7M137 211.5h7m-3.5 -3.5v7M137 261.5h7m-3.5 -3.5v7M137 214.5h7m-3.5 -3.5v7M137 213.5h7m-3.5 -3.5v7M138 213.5h7m-3.5 -3.5v7M138 211.5h7m-3.5 -3.5v7M138 212.5h7m-3.5 -3.5v7M139 211.5h7m-3.5 -3.5v7M139 212.5h7m-3.5 -3.5v7M139 213.5h7m-3.5 -3.5v7M139 210.5h7m-3.5 -3.5v7M140 212.5h7m-3.5 -3.5v7M140 213.5h7m-3.5 -3.5v7M140 222.5h7m-3.5 -3.5v7M140 210.5h7m-3.5 -3.5v7M140 215.5h7m-3.5 -3.5v7M141 211.5h7m-3.5 -3.5v7M141 210.5h7m-3.5 -3.5v7M142 212.5h7m-3.5 -3.5v7M142 210.5h7m-3.5 -3.5v7M142 224.5h7m-3.5 -3.5v7M142 214.5h7m-3.5 -3.5v7M142 213.5h7m-3.5 -3.5v7M143 210.5h7m-3.5 -3.5v7M143 214.5h7m-3.5 -3.5v7M143 211.5h7m-3.5 -3.5v7M143 213.5h7m-3.5 -3.5v7M144 211.5h7m-3.5 -3.5v7M144 210.5h7m-3.5 -3.5v7M144 238.5h7m-3.5 -3.5v7M144 212.5h7m-3.5 -3.5v7M145 211.5h7m-3.5 -3.5v7M145 214.5h7m-3.5 -3.5v7M145 212.5h7m-3.5 -3.5v7M145 271.5h7m-3.5 -3.5v7M145 260.5h7m-3.5 -3.5v7M145 209.5h7m-3.5 -3.5v7M146 210.5h7m-3.5 -3.5v7M146 212.5h7m-3.5 -3.5v7M146 213.5h7m-3.5 -3.5v7M146 217.5h7m-3.5 -3.5v7M146 208.5h7m-3.5 -3.5v7M147 215.5h7m-3.5 -3.5v7M147 213.5h7m-3.5 -3.5v7M147 212.5h7m-3.5 -3.5v7M147 210.5h7m-3.5 -3.5v7M148 237.5h7m-3.5 -3.5v7M148 215.5h7m-3.5 -3.5v7M148 210.5h7m-3.5 -3.5v7M148 212.5h7m-3.5 -3.5v7M148 211.5h7m-3.5 -3.5v7M148 216.5h7m-3.5 -3.5v7M149 211.5h7m-3.5 -3.5v7M149 213.5h7m-3.5 -3.5v7M149 214.5h7m-3.5 -3.5v7M150 212.5h7m-3.5 -3.5v7M150 211.5h7m-3.5 -3.5v7M150 215.5h7m-3.5 -3.5v7M150 88.5h7m-3.5 -3.5v7M150 89.5h7m-3.5 -3.5v7M150 87.5h7m-3.5 -3.5v7M151 90.5h7m-3.5 -3.5v7M151 89.5h7m-3.5 -3.5v7M151 88.5h7m-3.5 -3.5v7M151 94.5h7m-3.5 -3.5v7M151 212.5h7m-3.5 -3.5v7M151 215.5h7m-3.5 -3.5v7M152 213.5h7m-3.5 -3.5v7M152 211.5h7m-3.5 -3.5v7M152 214.5h7m-3.5 -3.5v7M153 212.5h7m-3.5 -3.5v7M153 213.5h7m-3.5 -3.5v7M153 211.5h7m-3.5 -3.5v7M153 223.5h7m-3.5 -3.5v7M154 211.5h7m-3.5 -3.5v7M154 213.5h7m-3.5 -3.5v7M154 210.5h7m-3.5 -3.5v7M154 212.5h7m-3.5 -3.5v7M155 221.5h7m-3.5 -3.5v7M155 213.5h7m-3.5 -3.5v7M155 212.5h7m-3.5 -3.5v7M155 208.5h7m-3.5 -3.5v7M156 212.5h7m-3.5 -3.5v7M156 211.5h7m-3.5 -3.5v7M156 213.5h7m-3.5 -3.5v7M156 209.5h7m-3.5 -3.5v7M157 212.5h7m-3.5 -3.5v7M157 269.5h7m-3.5 -3.5v7M157 214.5h7m-3.5 -3.5v7M157 252.5h7m-3.5 -3.5v7M158 213.5h7m-3.5 -3.5v7M158 210.5h7m-3.5 -3.5v7M158 211.5h7m-3.5 -3.5v7M158 214.5h7m-3.5 -3.5v7M158 212.5h7m-3.5 -3.5v7M159 213.5h7m-3.5 -3.5v7M159 239.5h7m-3.5 -3.5v7M159 214.5h7m-3.5 -3.5v7M159 211.5h7m-3.5 -3.5v7M159 212.5h7m-3.5 -3.5v7M160 211.5h7m-3.5 -3.5v7M160 212.5h7m-3.5 -3.5v7M160 210.5h7m-3.5 -3.5v7M161 211.5h7m-3.5 -3.5v7M161 210.5h7m-3.5 -3.5v7M161 212.5h7m-3.5 -3.5v7M162 215.5h7m-3.5 -3.5v7M162 212.5h7m-3.5 -3.5v7M162 213.5h7m-3.5 -3.5v7M162 228.5h7m-3.5 -3.5v7M162 229.5h7m-3.5 -3.5v7M163 228.5h7m-3.5 -3.5v7M163 229.5h7m-3.5 -3.5v7M163 226.5h7m-3.5 -3.5v7M163 227.5h7m-3.5 -3.5v7M164 228.5h7m-3.5 -3.5v7M164 227.5h7m-3.5 -3.5v7M164 226.5h7m-3.5 -3.5v7M165 229.5h7m-3.5 -3.5v7M165 228.5h7m-3.5 -3.5v7M165 250.5h7m-3.5 -3.5v7M165 230.5h7m-3.5 -3.5v7M166 233.5h7m-3.5 -3.5v7M166 257.5h7m-3.5 -3.5v7M166 229.5h7m-3.5 -3.5v7M166 227.5h7m-3.5 -3.5v7M166 312.5h7m-3.5 -3.5v7M166 230.5h7m-3.5 -3.5v7M167 229.5h7m-3.5 -3.5v7M167 315.5h7m-3.5 -3.5v7M167 225.5h7m-3.5 -3.5v7M167 228.5h7m-3.5 -3.5v7M167 227.5h7m-3.5 -3.5v7M167 252.5h7m-3.5 -3.5v7M168 228.5h7m-3.5 -3.5v7M168 229.5h7m-3.5 -3.5v7M168 245.5h7m-3.5 -3.5v7M168 226.5h7m-3.5 -3.5v7M168 227.5h7m-3.5 -3.5v7M169 230.5h7m-3.5 -3.5v7M169 228.5h7m-3.5 -3.5v7M169 227.5h7m-3.5 -3.5v7M170 227.5h7m-3.5 -3.5v7M170 228.5h7m-3.5 -3.5v7M170 226.5h7m-3.5 -3.5v7M170 229.5h7m-3.5 -3.5v7M171 226.5h7m-3.5 -3.5v7M171 229.5h7m-3.5 -3.5v7M171 228.5h7m-3.5 -3.5v7M171 227.5h7m-3.5 -3.5v7M172 228.5h7m-3.5 -3.5v7M172 236.5h7m-3.5 -3.5v7M172 229.5h7m-3.5 -3.5v7M172 227.5h7m-3.5 -3.5v7M173 229.5h7m-3.5 -3.5v7M173 230.5h7m-3.5 -3.5v7M173 226.5h7m-3.5 -3.5v7M173 228.5h7m-3.5 -3.5v7M173 225.5h7m-3.5 -3.5v7M173 227.5h7m-3.5 -3.5v7M174 227.5h7m-3.5 -3.5v7M174 228.5h7m-3.5 -3.5v7M175 228.5h7m-3.5 -3.5v7M175 227.5h7m-3.5 -3.5v7M175 269.5h7m-3.5 -3.5v7M175 226.5h7m-3.5 -3.5v7M176 226.5h7m-3.5 -3.5v7M176 228.5h7m-3.5 -3.5v7M176 227.5h7m-3.5 -3.5v7M176 225.5h7m-3.5 -3.5v7M176 229.5h7m-3.5 -3.5v7M177 236.5h7m-3.5 -3.5v7M177 226.5h7m-3.5 -3.5v7M177 229.5h7m-3.5 -3.5v7M177 228.5h7m-3.5 -3.5v7M178 227.5h7m-3.5 -3.5v7M178 237.5h7m-3.5 -3.5v7M178 228.5h7m-3.5 -3.5v7M179 227.5h7m-3.5 -3.5v7M179 236.5h7m-3.5 -3.5v7M179 229.5h7m-3.5 -3.5v7M179 228.5h7m-3.5 -3.5v7M180 228.5h7m-3.5 -3.5v7M180 227.5h7m-3.5 -3.5v7M180 226.5h7m-3.5 -3.5v7M180 229.5h7m-3.5 -3.5v7M180 225.5h7m-3.5 -3.5v7M181 230.5h7m-3.5 -3.5v7M181 228.5h7m-3.5 -3.5v7M181 226.5h7m-3.5 -3.5v7M181 236.5h7m-3.5 -3.5v7M181 227.5h7m-3.5 -3.5v7M182 227.5h7m-3.5 -3.5v7M182 228.5h7m-3.5 -3.5v7M182 274.5h7m-3.5 -3.5v7M182 230.5h7m-3.5 -3.5v7M182 229.5h7m-3.5 -3.5v7M183 227.5h7m-3.5 -3.5v7M183 228.5h7m-3.5 -3.5v7M183 233.5h7m-3.5 -3.5v7M184 228.5h7m-3.5 -3.5v7M184 211.5h7m-3.5 -3.5v7M184 207.5h7m-3.5 -3.5v7M184 205.5h7m-3.5 -3.5v7M185 213.5h7m-3.5 -3.5v7M185 206.5h7m-3.5 -3.5v7M185 214.5h7m-3.5 -3.5v7M185 215.5h7m-3.5 -3.5v7M186 211.5h7m-3.5 -3.5v7M186 214.5h7m-3.5 -3.5v7M186 215.5h7m-3.5 -3.5v7M186 213.5h7m-3.5 -3.5v7M186 210.5h7m-3.5 -3.5v7M187 209.5h7m-3.5 -3.5v7M187 207.5h7m-3.5 -3.5v7M187 214.5h7m-3.5 -3.5v7M188 211.5h7m-3.5 -3.5v7M188 265.5h7m-3.5 -3.5v7M188 216.5h7m-3.5 -3.5v7M188 240.5h7m-3.5 -3.5v7M188 210.5h7m-3.5 -3.5v7M189 209.5h7m-3.5 -3.5v7M189 212.5h7m-3.5 -3.5v7M189 230.5h7m-3.5 -3.5v7M189 228.5h7m-3.5 -3.5v7M190 229.5h7m-3.5 -3.5v7M190 226.5h7m-3.5 -3.5v7M190 227.5h7m-3.5 -3.5v7M190 299.5h7m-3.5 -3.5v7M191 229.5h7m-3.5 -3.5v7M191 227.5h7m-3.5 -3.5v7M191 228.5h7m-3.5 -3.5v7M191 232.5h7m-3.5 -3.5v7M192 253.5h7m-3.5 -3.5v7M192 231.5h7m-3.5 -3.5v7M192 229.5h7m-3.5 -3.5v7M192 234.5h7m-3.5 -3.5v7M192 230.5h7m-3.5 -3.5v7M193 226.5h7m-3.5 -3.5v7M193 228.5h7m-3.5 -3.5v7M193 229.5h7m-3.5 -3.5v7M194 225.5h7m-3.5 -3.5v7M194 229.5h7m-3.5 -3.5v7M194 231.5h7m-3.5 -3.5v7M194 227.5h7m-3.5 -3.5v7M195 226.5h7m-3.5 -3.5v7M195 228.5h7m-3.5 -3.5v7M195 231.5h7m-3.5 -3.5v7M195 229.5h7m-3.5 -3.5v7M196 228.5h7m-3.5 -3.5v7M196 224.5h7m-3.5 -3.5v7M196 230.5h7m-3.5 -3.5v7M196 227.5h7m-3.5 -3.5v7M196 226.5h7m-3.5 -3.5v7M197 225.5h7m-3.5 -3.5v7M197 270.5h7m-3.5 -3.5v7M197 244.5h7m-3.5 -3.5v7M197 230.5h7m-3.5 -3.5v7M197 236.5h7m-3.5 -3.5v7M197 231.5h7m-3.5 -3.5v7M198 229.5h7m-3.5 -3.5v7M198 232.5h7m-3.5 -3.5v7M198 230.5h7m-3.5 -3.5v7M198 225.5h7m-3.5 -3.5v7M199 230.5h7m-3.5 -3.5v7M199 231.5h7m-3.5 -3.5v7M199 233.5h7m-3.5 -3.5v7M199 226.5h7m-3.5 -3.5v7M199 229.5h7m-3.5 -3.5v7M200 226.5h7m-3.5 -3.5v7M200 229.5h7m-3.5 -3.5v7M200 228.5h7m-3.5 -3.5v7M200 230.5h7m-3.5 -3.5v7M201 227.5h7m-3.5 -3.5v7M201 225.5h7m-3.5 -3.5v7M201 240.5h7m-3.5 -3.5v7M201 230.5h7m-3.5 -3.5v7M202 228.5h7m-3.5 -3.5v7M202 230.5h7m-3.5 -3.5v7M202 227.5h7m-3.5 -3.5v7M202 229.5h7m-3.5 -3.5v7M203 227.5h7m-3.5 -3.5v7M203 229.5h7m-3.5 -3.5v7M203 232.5h7m-3.5 -3.5v7M203 228.5h7m-3.5 -3.5v7M204 228.5h7m-3.5 -3.5v7M204 229.5h7m-3.5 -3.5v7M204 226.5h7m-3.5 -3.5v7M204 241.5h7m-3.5 -3.5v7M204 232.5h7m-3.5 -3.5v7M205 233.5h7m-3.5 -3.5v7M205 230.5h7m-3.5 -3.5v7M205 228.5h7m-3.5 -3.5v7M205 229.5h7m-3.5 -3.5v7M205 225.5h7m-3.5 -3.5v7M206 230.5h7m-3.5 -3.5v7M206 228.5h7m-3.5 -3.5v7M206 227.5h7m-3.5 -3.5v7M206 229.5h7m-3.5 -3.5v7M207 229.5h7m-3.5 -3.5v7M207 228.5h7m-3.5 -3.5v7M207 227.5h7m-3.5 -3.5v7M207 231.5h7m-3.5 -3.5v7M207 234.5h7m-3.5 -3.5v7M208 254.5h7m-3.5 -3.5v7M208 270.5h7m-3.5 -3.5v7M208 249.5h7m-3.5 -3.5v7M208 225.5h7m-3.5 -3.5v7M208 228.5h7m-3.5 -3.5v7M209 230.5h7m-3.5 -3.5v7M209 229.5h7m-3.5 -3.5v7M209 226.5h7m-3.5 -3.5v7M209 228.5h7m-3.5 -3.5v7M209 227.5h7m-3.5 -3.5v7M210 226.5h7m-3.5 -3.5v7M210 230.5h7m-3.5 -3.5v7M210 229.5h7m-3.5 -3.5v7M210 232.5h7m-3.5 -3.5v7M210 227.5h7m-3.5 -3.5v7M210 225.5h7m-3.5 -3.5v7M211 227.5h7m-3.5 -3.5v7M211 229.5h7m-3.5 -3.5v7M211 225.5h7m-3.5 -3.5v7M211 230.5h7m-3.5 -3.5v7M211 239.5h7m-3.5 -3.5v7M211 242.5h7m-3.5 -3.5v7M212 226.5h7m-3.5 -3.5v7M212 230.5h7m-3.5 -3.5v7M212 227.5h7m-3.5 -3.5v7M212 229.5h7m-3.5 -3.5v7M212 228.5h7m-3.5 -3.5v7M213 224.5h7m-3.5 -3.5v7M213 226.5h7m-3.5 -3.5v7M213 227.5h7m-3.5 -3.5v7M213 230.5h7m-3.5 -3.5v7M214 228.5h7m-3.5 -3.5v7M214 229.5h7m-3.5 -3.5v7M214 227.5h7m-3.5 -3.5v7M214 230.5h7m-3.5 -3.5v7M214 231.5h7m-3.5 -3.5v7M214 226.5h7m-3.5 -3.5v7M215 230.5h7m-3.5 -3.5v7M215 240.5h7m-3.5 -3.5v7M215 232.5h7m-3.5 -3.5v7M215 229.5h7m-3.5 -3.5v7M215 231.5h7m-3.5 -3.5v7M216 231.5h7m-3.5 -3.5v7M216 226.5h7m-3.5 -3.5v7M216 229.5h7m-3.5 -3.5v7M216 227.5h7m-3.5 -3.5v7M217 229.5h7m-3.5 -3.5v7M217 227.5h7m-3.5 -3.5v7M217 230.5h7m-3.5 -3.5v7M217 232.5h7m-3.5 -3.5v7M218 229.5h7m-3.5 -3.5v7M218 228.5h7m-3.5 -3.5v7M218 231.5h7m-3.5 -3.5v7M218 275.5h7m-3.5 -3.5v7M218 227.5h7m-3.5 -3.5v7M218 232.5h7m-3.5 -3.5v7M219 230.5h7m-3.5 -3.5v7M219 231.5h7m-3.5 -3.5v7M219 228.5h7m-3.5 -3.5v7M219 229.5h7m-3.5 -3.5v7M220 231.5h7m-3.5 -3.5v7M220 232.5h7m-3.5 -3.5v7M220 273.5h7m-3.5 -3.5v7M220 226.5h7m-3.5 -3.5v7M221 228.5h7m-3.5 -3.5v7M221 226.5h7m-3.5 -3.5v7M221 230.5h7m-3.5 -3.5v7M221 227.5h7m-3.5 -3.5v7M221 232.5h7m-3.5 -3.5v7M222 226.5h7m-3.5 -3.5v7M222 229.5h7m-3.5 -3.5v7M222 232.5h7m-3.5 -3.5v7M222 227.5h7m-3.5 -3.5v7M222 225.5h7m-3.5 -3.5v7M223 229.5h7m-3.5 -3.5v7M223 228.5h7m-3.5 -3.5v7M223 231.5h7m-3.5 -3.5v7M223 241.5h7m-3.5 -3.5v7M223 226.5h7m-3.5 -3.5v7M223 233.5h7m-3.5 -3.5v7M224 229.5h7m-3.5 -3.5v7M224 228.5h7m-3.5 -3.5v7M224 226.5h7m-3.5 -3.5v7M224 232.5h7m-3.5 -3.5v7M224 225.5h7m-3.5 -3.5v7M225 226.5h7m-3.5 -3.5v7M225 230.5h7m-3.5 -3.5v7M225 229.5h7m-3.5 -3.5v7M225 227.5h7m-3.5 -3.5v7M225 223.5h7m-3.5 -3.5v7M225 228.5h7m-3.5 -3.5v7M226 230.5h7m-3.5 -3.5v7M226 226.5h7m-3.5 -3.5v7M226 271.5h7m-3.5 -3.5v7M226 229.5h7m-3.5 -3.5v7M226 231.5h7m-3.5 -3.5v7M227 227.5h7m-3.5 -3.5v7M227 231.5h7m-3.5 -3.5v7M227 312.5h7m-3.5 -3.5v7M227 226.5h7m-3.5 -3.5v7M228 227.5h7m-3.5 -3.5v7M228 229.5h7m-3.5 -3.5v7M229 228.5h7m-3.5 -3.5v7M229 230.5h7m-3.5 -3.5v7M229 269.5h7m-3.5 -3.5v7M229 229.5h7m-3.5 -3.5v7M229 225.5h7m-3.5 -3.5v7M230 228.5h7m-3.5 -3.5v7M230 225.5h7m-3.5 -3.5v7M230 271.5h7m-3.5 -3.5v7M230 229.5h7m-3.5 -3.5v7M230 232.5h7m-3.5 -3.5v7M231 229.5h7m-3.5 -3.5v7M231 228.5h7m-3.5 -3.5v7M231 232.5h7m-3.5 -3.5v7M232 229.5h7m-3.5 -3.5v7M232 233.5h7m-3.5 -3.5v7M232 226.5h7m-3.5 -3.5v7M232 224.5h7m-3.5 -3.5v7M232 230.5h7m-3.5 -3.5v7M232 231.5h7m-3.5 -3.5v7M232 228.5h7m-3.5 -3.5v7M233 230.5h7m-3.5 -3.5v7M233 229.5h7m-3.5 -3.5v7M233 231.5h7m-3.5 -3.5v7M233 227.5h7m-3.5 -3.5v7M233 226.5h7m-3.5 -3.5v7M234 227.5h7m-3.5 -3.5v7M234 231.5h7m-3.5 -3.5v7M234 226.5h7m-3.5 -3.5v7M234 235.5h7m-3.5 -3.5v7M234 228.5h7m-3.5 -3.5v7M235 229.5h7m-3.5 -3.5v7M235 227.5h7m-3.5 -3.5v7M235 239.5h7m-3.5 -3.5v7M235 226.5h7m-3.5 -3.5v7M235 230.5h7m-3.5 -3.5v7M236 231.5h7m-3.5 -3.5v7M236 227.5h7m-3.5 -3.5v7M236 226.5h7m-3.5 -3.5v7M236 230.5h7m-3.5 -3.5v7M236 232.5h7m-3.5 -3.5v7M236 229.5h7m-3.5 -3.5v7M237 227.5h7m-3.5 -3.5v7M237 228.5h7m-3.5 -3.5v7M237 229.5h7m-3.5 -3.5v7M238 229.5h7m-3.5 -3.5v7M238 231.5h7m-3.5 -3.5v7M238 230.5h7m-3.5 -3.5v7M238 238.5h7m-3.5 -3.5v7M239 229.5h7m-3.5 -3.5v7M239 231.5h7m-3.5 -3.5v7M239 226.5h7m-3.5 -3.5v7M239 228.5h7m-3.5 -3.5v7M239 230.5h7m-3.5 -3.5v7M239 227.5h7m-3.5 -3.5v7M240 228.5h7m-3.5 -3.5v7M240 234.5h7m-3.5 -3.5v7M240 230.5h7m-3.5 -3.5v7M240 226.5h7m-3.5 -3.5v7M240 227.5h7m-3.5 -3.5v7M241 231.5h7m-3.5 -3.5v7M241 239.5h7m-3.5 -3.5v7M241 227.5h7m-3.5 -3.5v7M241 229.5h7m-3.5 -3.5v7M241 226.5h7m-3.5 -3.5v7M242 224.5h7m-3.5 -3.5v7M242 231.5h7m-3.5 -3.5v7M242 229.5h7m-3.5 -3.5v7M242 232.5h7m-3.5 -3.5v7M242 228.5h7m-3.5 -3.5v7M243 229.5h7m-3.5 -3.5v7M243 203.5h7m-3.5 -3.5v7M243 227.5h7m-3.5 -3.5v7M243 127.5h7m-3.5 -3.5v7M243 130.5h7m-3.5 -3.5v7M243 131.5h7m-3.5 -3.5v7M244 128.5h7m-3.5 -3.5v7M244 132.5h7m-3.5 -3.5v7M244 130.5h7m-3.5 -3.5v7M244 126.5h7m-3.5 -3.5v7M244 129.5h7m-3.5 -3.5v7M245 123.5h7m-3.5 -3.5v7M245 125.5h7m-3.5 -3.5v7M245 126.5h7m-3.5 -3.5v7M245 128.5h7m-3.5 -3.5v7M245 130.5h7m-3.5 -3.5v7M245 129.5h7m-3.5 -3.5v7M245 185.5h7m-3.5 -3.5v7M246 181.5h7m-3.5 -3.5v7M246 183.5h7m-3.5 -3.5v7M246 179.5h7m-3.5 -3.5v7M246 207.5h7m-3.5 -3.5v7M247 179.5h7m-3.5 -3.5v7M247 181.5h7m-3.5 -3.5v7M247 182.5h7m-3.5 -3.5v7M248 181.5h7m-3.5 -3.5v7M248 196.5h7m-3.5 -3.5v7M248 180.5h7m-3.5 -3.5v7M248 183.5h7m-3.5 -3.5v7M248 179.5h7m-3.5 -3.5v7M249 181.5h7m-3.5 -3.5v7M249 180.5h7m-3.5 -3.5v7M249 195.5h7m-3.5 -3.5v7M250 180.5h7m-3.5 -3.5v7M250 182.5h7m-3.5 -3.5v7M250 181.5h7m-3.5 -3.5v7M251 182.5h7m-3.5 -3.5v7M251 180.5h7m-3.5 -3.5v7M251 190.5h7m-3.5 -3.5v7M251 181.5h7m-3.5 -3.5v7M252 182.5h7m-3.5 -3.5v7M252 180.5h7m-3.5 -3.5v7M252 179.5h7m-3.5 -3.5v7M253 181.5h7m-3.5 -3.5v7M253 189.5h7m-3.5 -3.5v7M253 177.5h7m-3.5 -3.5v7M253 180.5h7m-3.5 -3.5v7M254 178.5h7m-3.5 -3.5v7M254 179.5h7m-3.5 -3.5v7M254 180.5h7m-3.5 -3.5v7M255 178.5h7m-3.5 -3.5v7M255 179.5h7m-3.5 -3.5v7M255 177.5h7m-3.5 -3.5v7M255 182.5h7m-3.5 -3.5v7M256 179.5h7m-3.5 -3.5v7M256 180.5h7m-3.5 -3.5v7M256 196.5h7m-3.5 -3.5v7M256 181.5h7m-3.5 -3.5v7M256 178.5h7m-3.5 -3.5v7M256 177.5h7m-3.5 -3.5v7M257 178.5h7m-3.5 -3.5v7M257 179.5h7m-3.5 -3.5v7M257 180.5h7m-3.5 -3.5v7M258 180.5h7m-3.5 -3.5v7M258 177.5h7m-3.5 -3.5v7M258 178.5h7m-3.5 -3.5v7M259 178.5h7m-3.5 -3.5v7M259 179.5h7m-3.5 -3.5v7M259 190.5h7m-3.5 -3.5v7M260 179.5h7m-3.5 -3.5v7M260 178.5h7m-3.5 -3.5v7M261 180.5h7m-3.5 -3.5v7M261 177.5h7m-3.5 -3.5v7M261 178.5h7m-3.5 -3.5v7M262 177.5h7m-3.5 -3.5v7M262 179.5h7m-3.5 -3.5v7M262 194.5h7m-3.5 -3.5v7M263 178.5h7m-3.5 -3.5v7M263 179.5h7m-3.5 -3.5v7M263 180.5h7m-3.5 -3.5v7M264 176.5h7m-3.5 -3.5v7M264 177.5h7m-3.5 -3.5v7M264 178.5h7m-3.5 -3.5v7M265 176.5h7m-3.5 -3.5v7M265 179.5h7m-3.5 -3.5v7M265 196.5h7m-3.5 -3.5v7M265 177.5h7m-3.5 -3.5v7M265 181.5h7m-3.5 -3.5v7M265 178.5h7m-3.5 -3.5v7M266 178.5h7m-3.5 -3.5v7M266 202.5h7m-3.5 -3.5v7M267 178.5h7m-3.5 -3.5v7M267 197.5h7m-3.5 -3.5v7M267 175.5h7m-3.5 -3.5v7M267 177.5h7m-3.5 -3.5v7M268 175.5h7m-3.5 -3.5v7M268 177.5h7m-3.5 -3.5v7M268 173.5h7m-3.5 -3.5v7M268 176.5h7m-3.5 -3.5v7M268 193.5h7m-3.5 -3.5v7M269 173.5h7m-3.5 -3.5v7M269 175.5h7m-3.5 -3.5v7M269 176.5h7m-3.5 -3.5v7M269 174.5h7m-3.5 -3.5v7M269 177.5h7m-3.5 -3.5v7M270 173.5h7m-3.5 -3.5v7M270 176.5h7m-3.5 -3.5v7M270 174.5h7m-3.5 -3.5v7M271 172.5h7m-3.5 -3.5v7M271 175.5h7m-3.5 -3.5v7M271 171.5h7m-3.5 -3.5v7M271 174.5h7m-3.5 -3.5v7M272 185.5h7m-3.5 -3.5v7M272 172.5h7m-3.5 -3.5v7M272 174.5h7m-3.5 -3.5v7M272 175.5h7m-3.5 -3.5v7M272 171.5h7m-3.5 -3.5v7M272 173.5h7m-3.5 -3.5v7M273 174.5h7m-3.5 -3.5v7M273 170.5h7m-3.5 -3.5v7M273 169.5h7m-3.5 -3.5v7M273 168.5h7m-3.5 -3.5v7M273 172.5h7m-3.5 -3.5v7M274 172.5h7m-3.5 -3.5v7M274 169.5h7m-3.5 -3.5v7M274 170.5h7m-3.5 -3.5v7M274 168.5h7m-3.5 -3.5v7M275 169.5h7m-3.5 -3.5v7M275 170.5h7m-3.5 -3.5v7M275 171.5h7m-3.5 -3.5v7M276 170.5h7m-3.5 -3.5v7M276 169.5h7m-3.5 -3.5v7M276 168.5h7m-3.5 -3.5v7M277 171.5h7m-3.5 -3.5v7M277 169.5h7m-3.5 -3.5v7M277 170.5h7m-3.5 -3.5v7M278 174.5h7m-3.5 -3.5v7M278 169.5h7m-3.5 -3.5v7M278 168.5h7m-3.5 -3.5v7M278 171.5h7m-3.5 -3.5v7M279 169.5h7m-3.5 -3.5v7M279 170.5h7m-3.5 -3.5v7M279 181.5h7m-3.5 -3.5v7M279 178.5h7m-3.5 -3.5v7M279 180.5h7m-3.5 -3.5v7M280 175.5h7m-3.5 -3.5v7M280 179.5h7m-3.5 -3.5v7M280 176.5h7m-3.5 -3.5v7M280 178.5h7m-3.5 -3.5v7M281 175.5h7m-3.5 -3.5v7M281 178.5h7m-3.5 -3.5v7M281 176.5h7m-3.5 -3.5v7M281 179.5h7m-3.5 -3.5v7M282 220.5h7m-3.5 -3.5v7M282 199.5h7m-3.5 -3.5v7M282 178.5h7m-3.5 -3.5v7M282 177.5h7m-3.5 -3.5v7M283 179.5h7m-3.5 -3.5v7M283 177.5h7m-3.5 -3.5v7M283 176.5h7m-3.5 -3.5v7M283 174.5h7m-3.5 -3.5v7M284 180.5h7m-3.5 -3.5v7M284 176.5h7m-3.5 -3.5v7M284 177.5h7m-3.5 -3.5v7M285 178.5h7m-3.5 -3.5v7M285 203.5h7m-3.5 -3.5v7M285 252.5h7m-3.5 -3.5v7M285 176.5h7m-3.5 -3.5v7M285 180.5h7m-3.5 -3.5v7M285 175.5h7m-3.5 -3.5v7M285 177.5h7m-3.5 -3.5v7M286 178.5h7m-3.5 -3.5v7M286 176.5h7m-3.5 -3.5v7M286 175.5h7m-3.5 -3.5v7M286 177.5h7m-3.5 -3.5v7M287 177.5h7m-3.5 -3.5v7M287 175.5h7m-3.5 -3.5v7M287 173.5h7m-3.5 -3.5v7M288 176.5h7m-3.5 -3.5v7M288 178.5h7m-3.5 -3.5v7M288 177.5h7m-3.5 -3.5v7M288 180.5h7m-3.5 -3.5v7M289 177.5h7m-3.5 -3.5v7M289 176.5h7m-3.5 -3.5v7M289 179.5h7m-3.5 -3.5v7M289 194.5h7m-3.5 -3.5v7M289 180.5h7m-3.5 -3.5v7M290 177.5h7m-3.5 -3.5v7M290 179.5h7m-3.5 -3.5v7M290 180.5h7m-3.5 -3.5v7M291 179.5h7m-3.5 -3.5v7M291 177.5h7m-3.5 -3.5v7M291 176.5h7m-3.5 -3.5v7M291 181.5h7m-3.5 -3.5v7M291 173.5h7m-3.5 -3.5v7M292 179.5h7m-3.5 -3.5v7M292 178.5h7m-3.5 -3.5v7M292 175.5h7m-3.5 -3.5v7M292 177.5h7m-3.5 -3.5v7M293 176.5h7m-3.5 -3.5v7M293 177.5h7m-3.5 -3.5v7M293 179.5h7m-3.5 -3.5v7M293 205.5h7m-3.5 -3.5v7M294 178.5h7m-3.5 -3.5v7M294 176.5h7m-3.5 -3.5v7M294 173.5h7m-3.5 -3.5v7M295 176.5h7m-3.5 -3.5v7M295 178.5h7m-3.5 -3.5v7M295 175.5h7m-3.5 -3.5v7M295 177.5h7m-3.5 -3.5v7M296 176.5h7m-3.5 -3.5v7M296 177.5h7m-3.5 -3.5v7M296 199.5h7m-3.5 -3.5v7M296 175.5h7m-3.5 -3.5v7M297 177.5h7m-3.5 -3.5v7M297 183.5h7m-3.5 -3.5v7M297 176.5h7m-3.5 -3.5v7M297 185.5h7m-3.5 -3.5v7M298 179.5h7m-3.5 -3.5v7M298 174.5h7m-3.5 -3.5v7M298 181.5h7m-3.5 -3.5v7M298 178.5h7m-3.5 -3.5v7M298 176.5h7m-3.5 -3.5v7M299 190.5h7m-3.5 -3.5v7M299 176.5h7m-3.5 -3.5v7M299 177.5h7m-3.5 -3.5v7M299 175.5h7m-3.5 -3.5v7M299 178.5h7m-3.5 -3.5v7M300 180.5h7m-3.5 -3.5v7M300 176.5h7m-3.5 -3.5v7M300 178.5h7m-3.5 -3.5v7M300 174.5h7m-3.5 -3.5v7M300 175.5h7m-3.5 -3.5v7M300 177.5h7m-3.5 -3.5v7M301 176.5h7m-3.5 -3.5v7M301 237.5h7m-3.5 -3.5v7M301 178.5h7m-3.5 -3.5v7M301 183.5h7m-3.5 -3.5v7M301 179.5h7m-3.5 -3.5v7M302 177.5h7m-3.5 -3.5v7M302 175.5h7m-3.5 -3.5v7M302 196.5h7m-3.5 -3.5v7M302 174.5h7m-3.5 -3.5v7M303 176.5h7m-3.5 -3.5v7M303 179.5h7m-3.5 -3.5v7M303 192.5h7m-3.5 -3.5v7M303 178.5h7m-3.5 -3.5v7M303 181.5h7m-3.5 -3.5v7M303 197.5h7m-3.5 -3.5v7M304 179.5h7m-3.5 -3.5v7M304 176.5h7m-3.5 -3.5v7M304 193.5h7m-3.5 -3.5v7M304 174.5h7m-3.5 -3.5v7M304 177.5h7m-3.5 -3.5v7M305 177.5h7m-3.5 -3.5v7M305 176.5h7m-3.5 -3.5v7M305 175.5h7m-3.5 -3.5v7M306 177.5h7m-3.5 -3.5v7M306 176.5h7m-3.5 -3.5v7M306 278.5h7m-3.5 -3.5v7M306 178.5h7m-3.5 -3.5v7M307 176.5h7m-3.5 -3.5v7M307 178.5h7m-3.5 -3.5v7M307 175.5h7m-3.5 -3.5v7M307 181.5h7m-3.5 -3.5v7M308 180.5h7m-3.5 -3.5v7M308 178.5h7m-3.5 -3.5v7M308 175.5h7m-3.5 -3.5v7M308 174.5h7m-3.5 -3.5v7M308 176.5h7m-3.5 -3.5v7M309 180.5h7m-3.5 -3.5v7M309 177.5h7m-3.5 -3.5v7M309 178.5h7m-3.5 -3.5v7M309 267.5h7m-3.5 -3.5v7M309 175.5h7m-3.5 -3.5v7M310 175.5h7m-3.5 -3.5v7M310 179.5h7m-3.5 -3.5v7M310 178.5h7m-3.5 -3.5v7M310 177.5h7m-3.5 -3.5v7M311 176.5h7m-3.5 -3.5v7M311 174.5h7m-3.5 -3.5v7M311 178.5h7m-3.5 -3.5v7M311 175.5h7m-3.5 -3.5v7M312 177.5h7m-3.5 -3.5v7M312 176.5h7m-3.5 -3.5v7M312 175.5h7m-3.5 -3.5v7M312 174.5h7m-3.5 -3.5v7M313 191.5h7m-3.5 -3.5v7M313 178.5h7m-3.5 -3.5v7M313 177.5h7m-3.5 -3.5v7M313 180.5h7m-3.5 -3.5v7M313 174.5h7m-3.5 -3.5v7M313 176.5h7m-3.5 -3.5v7M313 175.5h7m-3.5 -3.5v7M314 178.5h7m-3.5 -3.5v7M314 175.5h7m-3.5 -3.5v7M314 177.5h7m-3.5 -3.5v7M314 176.5h7m-3.5 -3.5v7M315 174.5h7m-3.5 -3.5v7M315 192.5h7m-3.5 -3.5v7M315 179.5h7m-3.5 -3.5v7M315 177.5h7m-3.5 -3.5v7M316 177.5h7m-3.5 -3.5v7M316 178.5h7m-3.5 -3.5v7M316 175.5h7m-3.5 -3.5v7M316 176.5h7m-3.5 -3.5v7M316 179.5h7m-3.5 -3.5v7M317 199.5h7m-3.5 -3.5v7M317 174.5h7m-3.5 -3.5v7M317 176.5h7m-3.5 -3.5v7M317 180.5h7m-3.5 -3.5v7M317 175.5h7m-3.5 -3.5v7M318 194.5h7m-3.5 -3.5v7M318 177.5h7m-3.5 -3.5v7M318 176.5h7m-3.5 -3.5v7M318 179.5h7m-3.5 -3.5v7M319 184.5h7m-3.5 -3.5v7M319 175.5h7m-3.5 -3.5v7M319 177.5h7m-3.5 -3.5v7M319 176.5h7m-3.5 -3.5v7M320 174.5h7m-3.5 -3.5v7M320 211.5h7m-3.5 -3.5v7M320 176.5h7m-3.5 -3.5v7M320 178.5h7m-3.5 -3.5v7M320 177.5h7m-3.5 -3.5v7M321 176.5h7m-3.5 -3.5v7M321 177.5h7m-3.5 -3.5v7M321 178.5h7m-3.5 -3.5v7M321 174.5h7m-3.5 -3.5v7M322 175.5h7m-3.5 -3.5v7M322 176.5h7m-3.5 -3.5v7M322 177.5h7m-3.5 -3.5v7M322 178.5h7m-3.5 -3.5v7M322 173.5h7m-3.5 -3.5v7M323 176.5h7m-3.5 -3.5v7M323 177.5h7m-3.5 -3.5v7M323 178.5h7m-3.5 -3.5v7M323 192.5h7m-3.5 -3.5v7M323 180.5h7m-3.5 -3.5v7M323 179.5h7m-3.5 -3.5v7M324 177.5h7m-3.5 -3.5v7M324 176.5h7m-3.5 -3.5v7M324 183.5h7m-3.5 -3.5v7M324 175.5h7m-3.5 -3.5v7M325 177.5h7m-3.5 -3.5v7M325 176.5h7m-3.5 -3.5v7M325 174.5h7m-3.5 -3.5v7M325 175.5h7m-3.5 -3.5v7M326 176.5h7m-3.5 -3.5v7M326 174.5h7m-3.5 -3.5v7M326 193.5h7m-3.5 -3.5v7M326 172.5h7m-3.5 -3.5v7M326 178.5h7m-3.5 -3.5v7M327 175.5h7m-3.5 -3.5v7M327 174.5h7m-3.5 -3.5v7M327 177.5h7m-3.5 -3.5v7M327 180.5h7m-3.5 -3.5v7M327 178.5h7m-3.5 -3.5v7M328 178.5h7m-3.5 -3.5v7M328 176.5h7m-3.5 -3.5v7M328 181.5h7m-3.5 -3.5v7M329 174.5h7m-3.5 -3.5v7M329 214.5h7m-3.5 -3.5v7M329 211.5h7m-3.5 -3.5v7M329 178.5h7m-3.5 -3.5v7M329 175.5h7m-3.5 -3.5v7M330 180.5h7m-3.5 -3.5v7M330 174.5h7m-3.5 -3.5v7M330 176.5h7m-3.5 -3.5v7M330 196.5h7m-3.5 -3.5v7M330 177.5h7m-3.5 -3.5v7M330 179.5h7m-3.5 -3.5v7M331 177.5h7m-3.5 -3.5v7M331 175.5h7m-3.5 -3.5v7M331 178.5h7m-3.5 -3.5v7M331 201.5h7m-3.5 -3.5v7M331 176.5h7m-3.5 -3.5v7M331 174.5h7m-3.5 -3.5v7M332 175.5h7m-3.5 -3.5v7M332 173.5h7m-3.5 -3.5v7M332 208.5h7m-3.5 -3.5v7M332 176.5h7m-3.5 -3.5v7M332 174.5h7m-3.5 -3.5v7M332 177.5h7m-3.5 -3.5v7M333 178.5h7m-3.5 -3.5v7M333 176.5h7m-3.5 -3.5v7M333 182.5h7m-3.5 -3.5v7M333 244.5h7m-3.5 -3.5v7M333 177.5h7m-3.5 -3.5v7M333 174.5h7m-3.5 -3.5v7M334 174.5h7m-3.5 -3.5v7M334 217.5h7m-3.5 -3.5v7M334 177.5h7m-3.5 -3.5v7M334 172.5h7m-3.5 -3.5v7M334 182.5h7m-3.5 -3.5v7M335 175.5h7m-3.5 -3.5v7M335 174.5h7m-3.5 -3.5v7M335 173.5h7m-3.5 -3.5v7M335 216.5h7m-3.5 -3.5v7M336 172.5h7m-3.5 -3.5v7M336 170.5h7m-3.5 -3.5v7M336 174.5h7m-3.5 -3.5v7M336 205.5h7m-3.5 -3.5v7M336 173.5h7m-3.5 -3.5v7M336 175.5h7m-3.5 -3.5v7M337 175.5h7m-3.5 -3.5v7M337 172.5h7m-3.5 -3.5v7M337 178.5h7m-3.5 -3.5v7M337 197.5h7m-3.5 -3.5v7M337 173.5h7m-3.5 -3.5v7M338 173.5h7m-3.5 -3.5v7M338 176.5h7m-3.5 -3.5v7M338 172.5h7m-3.5 -3.5v7M338 175.5h7m-3.5 -3.5v7M338 174.5h7m-3.5 -3.5v7M339 172.5h7m-3.5 -3.5v7M339 173.5h7m-3.5 -3.5v7M339 199.5h7m-3.5 -3.5v7M339 176.5h7m-3.5 -3.5v7M339 197.5h7m-3.5 -3.5v7M339 175.5h7m-3.5 -3.5v7M340 172.5h7m-3.5 -3.5v7M340 177.5h7m-3.5 -3.5v7M340 175.5h7m-3.5 -3.5v7M340 174.5h7m-3.5 -3.5v7M340 176.5h7m-3.5 -3.5v7M341 173.5h7m-3.5 -3.5v7M341 172.5h7m-3.5 -3.5v7M341 174.5h7m-3.5 -3.5v7M341 176.5h7m-3.5 -3.5v7M342 171.5h7m-3.5 -3.5v7M342 174.5h7m-3.5 -3.5v7M342 190.5h7m-3.5 -3.5v7M342 172.5h7m-3.5 -3.5v7M342 173.5h7m-3.5 -3.5v7M343 175.5h7m-3.5 -3.5v7M343 177.5h7m-3.5 -3.5v7M343 172.5h7m-3.5 -3.5v7M343 171.5h7m-3.5 -3.5v7M344 174.5h7m-3.5 -3.5v7M344 173.5h7m-3.5 -3.5v7M344 172.5h7m-3.5 -3.5v7M345 173.5h7m-3.5 -3.5v7M345 172.5h7m-3.5 -3.5v7M345 189.5h7m-3.5 -3.5v7M345 174.5h7m-3.5 -3.5v7M345 175.5h7m-3.5 -3.5v7M346 174.5h7m-3.5 -3.5v7M346 173.5h7m-3.5 -3.5v7M346 175.5h7m-3.5 -3.5v7M346 171.5h7m-3.5 -3.5v7M347 173.5h7m-3.5 -3.5v7M347 172.5h7m-3.5 -3.5v7M347 176.5h7m-3.5 -3.5v7M347 171.5h7m-3.5 -3.5v7M347 170.5h7m-3.5 -3.5v7M348 172.5h7m-3.5 -3.5v7M348 173.5h7m-3.5 -3.5v7M348 176.5h7m-3.5 -3.5v7M348 175.5h7m-3.5 -3.5v7M348 170.5h7m-3.5 -3.5v7M349 181.5h7m-3.5 -3.5v7M349 217.5h7m-3.5 -3.5v7M349 178.5h7m-3.5 -3.5v7M349 174.5h7m-3.5 -3.5v7M349 179.5h7m-3.5 -3.5v7M349 175.5h7m-3.5 -3.5v7M350 214.5h7m-3.5 -3.5v7M350 178.5h7m-3.5 -3.5v7M350 175.5h7m-3.5 -3.5v7M350 181.5h7m-3.5 -3.5v7M351 204.5h7m-3.5 -3.5v7M351 178.5h7m-3.5 -3.5v7M351 173.5h7m-3.5 -3.5v7M351 175.5h7m-3.5 -3.5v7M352 179.5h7m-3.5 -3.5v7M352 187.5h7m-3.5 -3.5v7M352 178.5h7m-3.5 -3.5v7M352 180.5h7m-3.5 -3.5v7M352 176.5h7m-3.5 -3.5v7M353 180.5h7m-3.5 -3.5v7M353 179.5h7m-3.5 -3.5v7M353 177.5h7m-3.5 -3.5v7M354 176.5h7m-3.5 -3.5v7M354 181.5h7m-3.5 -3.5v7M354 178.5h7m-3.5 -3.5v7M354 179.5h7m-3.5 -3.5v7M354 177.5h7m-3.5 -3.5v7M355 212.5h7m-3.5 -3.5v7M355 178.5h7m-3.5 -3.5v7M355 179.5h7m-3.5 -3.5v7M355 210.5h7m-3.5 -3.5v7M355 180.5h7m-3.5 -3.5v7M356 187.5h7m-3.5 -3.5v7M356 182.5h7m-3.5 -3.5v7M356 183.5h7m-3.5 -3.5v7M356 180.5h7m-3.5 -3.5v7M356 178.5h7m-3.5 -3.5v7M357 181.5h7m-3.5 -3.5v7M357 246.5h7m-3.5 -3.5v7M357 269.5h7m-3.5 -3.5v7M357 179.5h7m-3.5 -3.5v7M357 182.5h7m-3.5 -3.5v7M357 184.5h7m-3.5 -3.5v7M358 185.5h7m-3.5 -3.5v7M358 180.5h7m-3.5 -3.5v7M358 182.5h7m-3.5 -3.5v7M358 181.5h7m-3.5 -3.5v7M359 180.5h7m-3.5 -3.5v7M359 302.5h7m-3.5 -3.5v7M359 181.5h7m-3.5 -3.5v7M359 183.5h7m-3.5 -3.5v7M360 179.5h7m-3.5 -3.5v7M360 181.5h7m-3.5 -3.5v7M360 180.5h7m-3.5 -3.5v7M360 183.5h7m-3.5 -3.5v7M361 189.5h7m-3.5 -3.5v7M361 179.5h7m-3.5 -3.5v7M361 192.5h7m-3.5 -3.5v7M361 181.5h7m-3.5 -3.5v7M361 182.5h7m-3.5 -3.5v7M362 182.5h7m-3.5 -3.5v7M362 180.5h7m-3.5 -3.5v7M362 181.5h7m-3.5 -3.5v7M363 180.5h7m-3.5 -3.5v7M363 183.5h7m-3.5 -3.5v7M363 182.5h7m-3.5 -3.5v7M363 181.5h7m-3.5 -3.5v7M364 182.5h7m-3.5 -3.5v7M364 180.5h7m-3.5 -3.5v7M364 183.5h7m-3.5 -3.5v7M364 185.5h7m-3.5 -3.5v7M364 179.5h7m-3.5 -3.5v7M365 181.5h7m-3.5 -3.5v7M365 180.5h7m-3.5 -3.5v7M365 211.5h7m-3.5 -3.5v7M365 200.5h7m-3.5 -3.5v7M365 179.5h7m-3.5 -3.5v7M366 181.5h7m-3.5 -3.5v7M366 182.5h7m-3.5 -3.5v7M366 185.5h7m-3.5 -3.5v7M366 179.5h7m-3.5 -3.5v7M367 181.5h7m-3.5 -3.5v7M367 179.5h7m-3.5 -3.5v7M367 183.5h7m-3.5 -3.5v7M368 190.5h7m-3.5 -3.5v7M368 181.5h7m-3.5 -3.5v7M368 183.5h7m-3.5 -3.5v7M368 179.5h7m-3.5 -3.5v7M369 184.5h7m-3.5 -3.5v7M369 180.5h7m-3.5 -3.5v7M369 181.5h7m-3.5 -3.5v7M370 180.5h7m-3.5 -3.5v7M370 181.5h7m-3.5 -3.5v7M370 177.5h7m-3.5 -3.5v7M370 182.5h7m-3.5 -3.5v7M371 177.5h7m-3.5 -3.5v7M371 314.5h7m-3.5 -3.5v7M371 178.5h7m-3.5 -3.5v7M371 176.5h7m-3.5 -3.5v7M371 183.5h7m-3.5 -3.5v7M372 266.5h7m-3.5 -3.5v7M372 180.5h7m-3.5 -3.5v7M372 295.5h7m-3.5 -3.5v7M372 175.5h7m-3.5 -3.5v7M373 178.5h7m-3.5 -3.5v7M373 179.5h7m-3.5 -3.5v7M373 203.5h7m-3.5 -3.5v7M373 181.5h7m-3.5 -3.5v7M374 178.5h7m-3.5 -3.5v7M374 180.5h7m-3.5 -3.5v7M374 176.5h7m-3.5 -3.5v7M374 214.5h7m-3.5 -3.5v7M374 177.5h7m-3.5 -3.5v7M375 181.5h7m-3.5 -3.5v7M375 179.5h7m-3.5 -3.5v7M375 203.5h7m-3.5 -3.5v7M375 180.5h7m-3.5 -3.5v7M376 181.5h7m-3.5 -3.5v7M376 179.5h7m-3.5 -3.5v7M376 202.5h7m-3.5 -3.5v7M376 177.5h7m-3.5 -3.5v7M376 180.5h7m-3.5 -3.5v7M377 179.5h7m-3.5 -3.5v7M377 178.5h7m-3.5 -3.5v7M377 203.5h7m-3.5 -3.5v7M377 164.5h7m-3.5 -3.5v7M377 181.5h7m-3.5 -3.5v7M377 167.5h7m-3.5 -3.5v7M378 176.5h7m-3.5 -3.5v7M378 164.5h7m-3.5 -3.5v7M378 178.5h7m-3.5 -3.5v7M378 165.5h7m-3.5 -3.5v7M378 181.5h7m-3.5 -3.5v7M379 161.5h7m-3.5 -3.5v7M379 164.5h7m-3.5 -3.5v7M379 184.5h7m-3.5 -3.5v7M379 163.5h7m-3.5 -3.5v7M379 177.5h7m-3.5 -3.5v7M380 167.5h7m-3.5 -3.5v7M380 162.5h7m-3.5 -3.5v7M380 160.5h7m-3.5 -3.5v7M380 165.5h7m-3.5 -3.5v7M380 161.5h7m-3.5 -3.5v7M381 217.5h7m-3.5 -3.5v7M381 216.5h7m-3.5 -3.5v7M381 159.5h7m-3.5 -3.5v7M381 161.5h7m-3.5 -3.5v7M381 164.5h7m-3.5 -3.5v7M381 162.5h7m-3.5 -3.5v7M382 162.5h7m-3.5 -3.5v7M382 182.5h7m-3.5 -3.5v7M382 164.5h7m-3.5 -3.5v7M382 161.5h7m-3.5 -3.5v7M383 206.5h7m-3.5 -3.5v7M383 181.5h7m-3.5 -3.5v7M383 182.5h7m-3.5 -3.5v7M383 178.5h7m-3.5 -3.5v7M383 177.5h7m-3.5 -3.5v7M384 182.5h7m-3.5 -3.5v7M384 178.5h7m-3.5 -3.5v7M384 184.5h7m-3.5 -3.5v7M384 183.5h7m-3.5 -3.5v7M384 177.5h7m-3.5 -3.5v7M384 207.5h7m-3.5 -3.5v7M385 181.5h7m-3.5 -3.5v7M385 177.5h7m-3.5 -3.5v7M385 176.5h7m-3.5 -3.5v7M385 180.5h7m-3.5 -3.5v7M386 178.5h7m-3.5 -3.5v7M386 181.5h7m-3.5 -3.5v7M386 183.5h7m-3.5 -3.5v7M387 176.5h7m-3.5 -3.5v7M387 181.5h7m-3.5 -3.5v7M387 180.5h7m-3.5 -3.5v7M387 178.5h7m-3.5 -3.5v7M387 177.5h7m-3.5 -3.5v7M387 179.5h7m-3.5 -3.5v7M388 183.5h7m-3.5 -3.5v7M388 181.5h7m-3.5 -3.5v7M388 182.5h7m-3.5 -3.5v7M388 177.5h7m-3.5 -3.5v7M389 176.5h7m-3.5 -3.5v7M389 159.5h7m-3.5 -3.5v7M389 162.5h7m-3.5 -3.5v7M389 163.5h7m-3.5 -3.5v7M389 168.5h7m-3.5 -3.5v7M389 182.5h7m-3.5 -3.5v7M390 185.5h7m-3.5 -3.5v7M390 190.5h7m-3.5 -3.5v7M390 186.5h7m-3.5 -3.5v7M390 183.5h7m-3.5 -3.5v7M390 184.5h7m-3.5 -3.5v7M391 187.5h7m-3.5 -3.5v7M391 184.5h7m-3.5 -3.5v7M391 203.5h7m-3.5 -3.5v7M391 181.5h7m-3.5 -3.5v7M391 183.5h7m-3.5 -3.5v7M392 188.5h7m-3.5 -3.5v7M392 181.5h7m-3.5 -3.5v7M392 228.5h7m-3.5 -3.5v7M392 183.5h7m-3.5 -3.5v7M392 180.5h7m-3.5 -3.5v7M393 183.5h7m-3.5 -3.5v7M393 188.5h7m-3.5 -3.5v7M393 185.5h7m-3.5 -3.5v7M393 270.5h7m-3.5 -3.5v7M393 184.5h7m-3.5 -3.5v7M394 180.5h7m-3.5 -3.5v7M394 183.5h7m-3.5 -3.5v7M394 228.5h7m-3.5 -3.5v7M394 184.5h7m-3.5 -3.5v7M394 181.5h7m-3.5 -3.5v7M395 182.5h7m-3.5 -3.5v7M395 215.5h7m-3.5 -3.5v7M395 176.5h7m-3.5 -3.5v7M395 187.5h7m-3.5 -3.5v7M396 182.5h7m-3.5 -3.5v7M396 179.5h7m-3.5 -3.5v7M396 184.5h7m-3.5 -3.5v7M396 139.5h7m-3.5 -3.5v7M396 138.5h7m-3.5 -3.5v7M396 137.5h7m-3.5 -3.5v7M397 137.5h7m-3.5 -3.5v7M397 135.5h7m-3.5 -3.5v7M397 138.5h7m-3.5 -3.5v7M397 139.5h7m-3.5 -3.5v7M398 137.5h7m-3.5 -3.5v7M398 144.5h7m-3.5 -3.5v7M398 138.5h7m-3.5 -3.5v7M398 141.5h7m-3.5 -3.5v7M398 135.5h7m-3.5 -3.5v7M398 134.5h7m-3.5 -3.5v7M399 146.5h7m-3.5 -3.5v7M399 138.5h7m-3.5 -3.5v7M399 137.5h7m-3.5 -3.5v7M399 140.5h7m-3.5 -3.5v7M400 139.5h7m-3.5 -3.5v7M400 134.5h7m-3.5 -3.5v7M400 137.5h7m-3.5 -3.5v7M400 138.5h7m-3.5 -3.5v7M401 138.5h7m-3.5 -3.5v7M401 134.5h7m-3.5 -3.5v7M401 137.5h7m-3.5 -3.5v7M401 136.5h7m-3.5 -3.5v7M401 139.5h7m-3.5 -3.5v7M401 135.5h7m-3.5 -3.5v7M402 138.5h7m-3.5 -3.5v7M402 135.5h7m-3.5 -3.5v7M402 134.5h7m-3.5 -3.5v7M402 140.5h7m-3.5 -3.5v7M402 137.5h7m-3.5 -3.5v7M403 152.5h7m-3.5 -3.5v7M403 135.5h7m-3.5 -3.5v7M403 134.5h7m-3.5 -3.5v7M403 138.5h7m-3.5 -3.5v7M403 153.5h7m-3.5 -3.5v7M403 137.5h7m-3.5 -3.5v7M403 139.5h7m-3.5 -3.5v7M404 138.5h7m-3.5 -3.5v7M404 140.5h7m-3.5 -3.5v7M404 141.5h7m-3.5 -3.5v7M404 137.5h7m-3.5 -3.5v7M404 136.5h7m-3.5 -3.5v7M405 155.5h7m-3.5 -3.5v7M405 138.5h7m-3.5 -3.5v7M405 134.5h7m-3.5 -3.5v7M405 136.5h7m-3.5 -3.5v7M405 135.5h7m-3.5 -3.5v7M406 140.5h7m-3.5 -3.5v7M406 143.5h7m-3.5 -3.5v7M406 137.5h7m-3.5 -3.5v7M406 135.5h7m-3.5 -3.5v7M406 139.5h7m-3.5 -3.5v7M407 135.5h7m-3.5 -3.5v7M407 136.5h7m-3.5 -3.5v7M407 139.5h7m-3.5 -3.5v7M407 134.5h7m-3.5 -3.5v7M407 169.5h7m-3.5 -3.5v7M407 140.5h7m-3.5 -3.5v7M408 195.5h7m-3.5 -3.5v7M408 136.5h7m-3.5 -3.5v7M408 134.5h7m-3.5 -3.5v7M408 135.5h7m-3.5 -3.5v7M408 138.5h7m-3.5 -3.5v7M409 136.5h7m-3.5 -3.5v7M409 134.5h7m-3.5 -3.5v7M409 137.5h7m-3.5 -3.5v7M409 133.5h7m-3.5 -3.5v7M409 138.5h7m-3.5 -3.5v7M410 134.5h7m-3.5 -3.5v7M410 138.5h7m-3.5 -3.5v7M410 136.5h7m-3.5 -3.5v7M410 139.5h7m-3.5 -3.5v7M410 140.5h7m-3.5 -3.5v7M411 132.5h7m-3.5 -3.5v7M411 137.5h7m-3.5 -3.5v7M411 227.5h7m-3.5 -3.5v7M411 138.5h7m-3.5 -3.5v7M411 136.5h7m-3.5 -3.5v7M411 139.5h7m-3.5 -3.5v7M412 135.5h7m-3.5 -3.5v7M412 137.5h7m-3.5 -3.5v7M412 132.5h7m-3.5 -3.5v7M412 136.5h7m-3.5 -3.5v7M413 135.5h7m-3.5 -3.5v7M413 139.5h7m-3.5 -3.5v7M413 136.5h7m-3.5 -3.5v7M413 137.5h7m-3.5 -3.5v7M413 141.5h7m-3.5 -3.5v7M413 138.5h7m-3.5 -3.5v7M414 137.5h7m-3.5 -3.5v7M414 136.5h7m-3.5 -3.5v7M414 134.5h7m-3.5 -3.5v7M415 141.5h7m-3.5 -3.5v7M415 135.5h7m-3.5 -3.5v7M415 190.5h7m-3.5 -3.5v7M415 137.5h7m-3.5 -3.5v7M415 138.5h7m-3.5 -3.5v7M416 138.5h7m-3.5 -3.5v7M416 136.5h7m-3.5 -3.5v7M416 140.5h7m-3.5 -3.5v7M416 137.5h7m-3.5 -3.5v7M417 136.5h7m-3.5 -3.5v7M417 137.5h7m-3.5 -3.5v7M417 139.5h7m-3.5 -3.5v7M417 134.5h7m-3.5 -3.5v7M417 138.5h7m-3.5 -3.5v7M418 135.5h7m-3.5 -3.5v7M418 147.5h7m-3.5 -3.5v7M418 137.5h7m-3.5 -3.5v7M419 137.5h7m-3.5 -3.5v7M419 136.5h7m-3.5 -3.5v7M419 135.5h7m-3.5 -3.5v7M419 138.5h7m-3.5 -3.5v7M420 137.5h7m-3.5 -3.5v7M420 135.5h7m-3.5 -3.5v7M420 138.5h7m-3.5 -3.5v7M420 139.5h7m-3.5 -3.5v7M421 139.5h7m-3.5 -3.5v7M421 152.5h7m-3.5 -3.5v7M421 137.5h7m-3.5 -3.5v7M421 136.5h7m-3.5 -3.5v7M422 137.5h7m-3.5 -3.5v7M422 138.5h7m-3.5 -3.5v7M422 136.5h7m-3.5 -3.5v7M423 133.5h7m-3.5 -3.5v7M423 135.5h7m-3.5 -3.5v7M423 140.5h7m-3.5 -3.5v7M423 139.5h7m-3.5 -3.5v7M423 138.5h7m-3.5 -3.5v7M423 141.5h7m-3.5 -3.5v7M424 159.5h7m-3.5 -3.5v7M424 137.5h7m-3.5 -3.5v7M424 136.5h7m-3.5 -3.5v7M424 138.5h7m-3.5 -3.5v7M424 140.5h7m-3.5 -3.5v7M424 139.5h7m-3.5 -3.5v7M425 139.5h7m-3.5 -3.5v7M425 137.5h7m-3.5 -3.5v7M425 170.5h7m-3.5 -3.5v7M425 135.5h7m-3.5 -3.5v7M426 136.5h7m-3.5 -3.5v7M426 138.5h7m-3.5 -3.5v7M426 162.5h7m-3.5 -3.5v7M426 137.5h7m-3.5 -3.5v7M427 138.5h7m-3.5 -3.5v7M427 167.5h7m-3.5 -3.5v7M427 144.5h7m-3.5 -3.5v7M427 137.5h7m-3.5 -3.5v7M427 139.5h7m-3.5 -3.5v7M427 132.5h7m-3.5 -3.5v7M428 137.5h7m-3.5 -3.5v7M428 161.5h7m-3.5 -3.5v7M428 136.5h7m-3.5 -3.5v7M428 141.5h7m-3.5 -3.5v7M429 139.5h7m-3.5 -3.5v7M429 137.5h7m-3.5 -3.5v7M429 134.5h7m-3.5 -3.5v7M430 138.5h7m-3.5 -3.5v7M430 137.5h7m-3.5 -3.5v7M430 135.5h7m-3.5 -3.5v7M431 140.5h7m-3.5 -3.5v7M431 133.5h7m-3.5 -3.5v7M431 147.5h7m-3.5 -3.5v7M431 137.5h7m-3.5 -3.5v7M431 138.5h7m-3.5 -3.5v7M432 138.5h7m-3.5 -3.5v7M432 135.5h7m-3.5 -3.5v7M432 134.5h7m-3.5 -3.5v7M432 137.5h7m-3.5 -3.5v7M432 139.5h7m-3.5 -3.5v7M433 140.5h7m-3.5 -3.5v7M433 136.5h7m-3.5 -3.5v7M433 137.5h7m-3.5 -3.5v7M433 138.5h7m-3.5 -3.5v7M434 139.5h7m-3.5 -3.5v7M434 138.5h7m-3.5 -3.5v7M434 137.5h7m-3.5 -3.5v7M434 146.5h7m-3.5 -3.5v7M434 136.5h7m-3.5 -3.5v7M434 134.5h7m-3.5 -3.5v7M435 137.5h7m-3.5 -3.5v7M435 135.5h7m-3.5 -3.5v7M435 138.5h7m-3.5 -3.5v7M435 140.5h7m-3.5 -3.5v7M436 137.5h7m-3.5 -3.5v7M436 136.5h7m-3.5 -3.5v7M436 135.5h7m-3.5 -3.5v7M437 148.5h7m-3.5 -3.5v7M437 141.5h7m-3.5 -3.5v7M437 139.5h7m-3.5 -3.5v7M437 134.5h7m-3.5 -3.5v7M437 140.5h7m-3.5 -3.5v7M437 135.5h7m-3.5 -3.5v7M438 135.5h7m-3.5 -3.5v7M438 138.5h7m-3.5 -3.5v7M438 140.5h7m-3.5 -3.5v7M439 136.5h7m-3.5 -3.5v7M439 137.5h7m-3.5 -3.5v7M439 155.5h7m-3.5 -3.5v7M440 137.5h7m-3.5 -3.5v7M440 138.5h7m-3.5 -3.5v7M440 200.5h7m-3.5 -3.5v7M440 157.5h7m-3.5 -3.5v7M441 137.5h7m-3.5 -3.5v7M441 135.5h7m-3.5 -3.5v7M441 155.5h7m-3.5 -3.5v7M441 139.5h7m-3.5 -3.5v7M442 136.5h7m-3.5 -3.5v7M442 135.5h7m-3.5 -3.5v7M442 139.5h7m-3.5 -3.5v7M442 154.5h7m-3.5 -3.5v7M443 134.5h7m-3.5 -3.5v7M443 150.5h7m-3.5 -3.5v7M443 138.5h7m-3.5 -3.5v7M443 139.5h7m-3.5 -3.5v7M443 137.5h7m-3.5 -3.5v7M444 137.5h7m-3.5 -3.5v7M444 136.5h7m-3.5 -3.5v7M444 139.5h7m-3.5 -3.5v7M444 138.5h7m-3.5 -3.5v7M445 153.5h7m-3.5 -3.5v7M445 138.5h7m-3.5 -3.5v7M445 134.5h7m-3.5 -3.5v7M445 136.5h7m-3.5 -3.5v7M445 141.5h7m-3.5 -3.5v7M446 137.5h7m-3.5 -3.5v7M446 140.5h7m-3.5 -3.5v7M446 135.5h7m-3.5 -3.5v7M446 138.5h7m-3.5 -3.5v7M447 147.5h7m-3.5 -3.5v7M447 135.5h7m-3.5 -3.5v7M447 138.5h7m-3.5 -3.5v7M447 137.5h7m-3.5 -3.5v7M447 136.5h7m-3.5 -3.5v7M448 136.5h7m-3.5 -3.5v7M448 134.5h7m-3.5 -3.5v7M448 140.5h7m-3.5 -3.5v7M448 135.5h7m-3.5 -3.5v7M448 145.5h7m-3.5 -3.5v7M449 137.5h7m-3.5 -3.5v7M449 136.5h7m-3.5 -3.5v7M450 137.5h7m-3.5 -3.5v7M450 138.5h7m-3.5 -3.5v7M450 136.5h7m-3.5 -3.5v7M450 135.5h7m-3.5 -3.5v7M451 137.5h7m-3.5 -3.5v7M451 138.5h7m-3.5 -3.5v7M451 149.5h7m-3.5 -3.5v7M451 134.5h7m-3.5 -3.5v7M451 136.5h7m-3.5 -3.5v7M452 136.5h7m-3.5 -3.5v7M452 137.5h7m-3.5 -3.5v7M452 139.5h7m-3.5 -3.5v7M453 139.5h7m-3.5 -3.5v7M453 138.5h7m-3.5 -3.5v7M453 135.5h7m-3.5 -3.5v7M453 136.5h7m-3.5 -3.5v7M453 142.5h7m-3.5 -3.5v7M454 135.5h7m-3.5 -3.5v7M454 158.5h7m-3.5 -3.5v7M454 134.5h7m-3.5 -3.5v7M454 137.5h7m-3.5 -3.5v7M454 136.5h7m-3.5 -3.5v7M455 138.5h7m-3.5 -3.5v7M455 159.5h7m-3.5 -3.5v7M455 137.5h7m-3.5 -3.5v7M455 135.5h7m-3.5 -3.5v7M455 140.5h7m-3.5 -3.5v7M456 137.5h7m-3.5 -3.5v7M456 139.5h7m-3.5 -3.5v7M456 138.5h7m-3.5 -3.5v7M456 135.5h7m-3.5 -3.5v7M456 140.5h7m-3.5 -3.5v7M457 139.5h7m-3.5 -3.5v7M457 140.5h7m-3.5 -3.5v7M457 136.5h7m-3.5 -3.5v7M457 135.5h7m-3.5 -3.5v7M457 137.5h7m-3.5 -3.5v7M458 138.5h7m-3.5 -3.5v7M458 147.5h7m-3.5 -3.5v7M458 142.5h7m-3.5 -3.5v7M458 137.5h7m-3.5 -3.5v7M459 135.5h7m-3.5 -3.5v7M459 137.5h7m-3.5 -3.5v7M459 136.5h7m-3.5 -3.5v7M459 139.5h7m-3.5 -3.5v7M460 136.5h7m-3.5 -3.5v7M460 135.5h7m-3.5 -3.5v7M461 148.5h7m-3.5 -3.5v7M461 136.5h7m-3.5 -3.5v7M461 139.5h7m-3.5 -3.5v7M461 137.5h7m-3.5 -3.5v7M462 137.5h7m-3.5 -3.5v7M462 135.5h7m-3.5 -3.5v7M462 136.5h7m-3.5 -3.5v7M463 137.5h7m-3.5 -3.5v7M463 138.5h7m-3.5 -3.5v7M463 139.5h7m-3.5 -3.5v7M463 140.5h7m-3.5 -3.5v7M463 152.5h7m-3.5 -3.5v7M464 136.5h7m-3.5 -3.5v7M464 137.5h7m-3.5 -3.5v7M464 172.5h7m-3.5 -3.5v7M464 140.5h7m-3.5 -3.5v7M465 134.5h7m-3.5 -3.5v7M465 136.5h7m-3.5 -3.5v7M465 135.5h7m-3.5 -3.5v7M465 138.5h7m-3.5 -3.5v7M466 138.5h7m-3.5 -3.5v7M466 137.5h7m-3.5 -3.5v7M466 134.5h7m-3.5 -3.5v7M467 134.5h7m-3.5 -3.5v7M467 136.5h7m-3.5 -3.5v7M467 148.5h7m-3.5 -3.5v7M467 140.5h7m-3.5 -3.5v7M468 137.5h7m-3.5 -3.5v7M468 155.5h7m-3.5 -3.5v7M468 138.5h7m-3.5 -3.5v7M468 135.5h7m-3.5 -3.5v7M468 139.5h7m-3.5 -3.5v7M469 138.5h7m-3.5 -3.5v7M469 136.5h7m-3.5 -3.5v7M469 137.5h7m-3.5 -3.5v7M469 139.5h7m-3.5 -3.5v7M470 137.5h7m-3.5 -3.5v7M470 149.5h7m-3.5 -3.5v7M470 139.5h7m-3.5 -3.5v7M470 138.5h7m-3.5 -3.5v7M470 136.5h7m-3.5 -3.5v7M471 136.5h7m-3.5 -3.5v7M471 137.5h7m-3.5 -3.5v7M471 140.5h7m-3.5 -3.5v7M471 134.5h7m-3.5 -3.5v7M472 136.5h7m-3.5 -3.5v7M472 139.5h7m-3.5 -3.5v7M472 138.5h7m-3.5 -3.5v7M472 137.5h7m-3.5 -3.5v7M472 134.5h7m-3.5 -3.5v7M473 139.5h7m-3.5 -3.5v7M473 136.5h7m-3.5 -3.5v7M473 140.5h7m-3.5 -3.5v7M474 283.5h7m-3.5 -3.5v7M474 286.5h7m-3.5 -3.5v7M474 284.5h7m-3.5 -3.5v7M475 287.5h7m-3.5 -3.5v7M475 284.5h7m-3.5 -3.5v7M475 286.5h7m-3.5 -3.5v7M475 387.5h7m-3.5 -3.5v7M475 283.5h7m-3.5 -3.5v7M476 288.5h7m-3.5 -3.5v7M476 284.5h7m-3.5 -3.5v7M476 291.5h7m-3.5 -3.5v7M476 285.5h7m-3.5 -3.5v7M476 286.5h7m-3.5 -3.5v7M477 285.5h7m-3.5 -3.5v7M477 281.5h7m-3.5 -3.5v7M477 286.5h7m-3.5 -3.5v7M477 288.5h7m-3.5 -3.5v7M478 295.5h7m-3.5 -3.5v7M478 287.5h7m-3.5 -3.5v7M478 286.5h7m-3.5 -3.5v7M478 289.5h7m-3.5 -3.5v7M478 285.5h7m-3.5 -3.5v7M479 283.5h7m-3.5 -3.5v7M479 284.5h7m-3.5 -3.5v7M479 287.5h7m-3.5 -3.5v7M479 285.5h7m-3.5 -3.5v7M479 286.5h7m-3.5 -3.5v7M479 290.5h7m-3.5 -3.5v7M480 286.5h7m-3.5 -3.5v7M480 298.5h7m-3.5 -3.5v7M480 285.5h7m-3.5 -3.5v7M480 287.5h7m-3.5 -3.5v7M481 282.5h7m-3.5 -3.5v7M481 286.5h7m-3.5 -3.5v7M481 288.5h7m-3.5 -3.5v7M481 284.5h7m-3.5 -3.5v7M481 285.5h7m-3.5 -3.5v7M482 285.5h7m-3.5 -3.5v7M482 300.5h7m-3.5 -3.5v7M482 284.5h7m-3.5 -3.5v7M482 283.5h7m-3.5 -3.5v7M482 290.5h7m-3.5 -3.5v7M483 284.5h7m-3.5 -3.5v7M483 285.5h7m-3.5 -3.5v7M483 287.5h7m-3.5 -3.5v7M483 286.5h7m-3.5 -3.5v7M483 282.5h7m-3.5 -3.5v7M484 284.5h7m-3.5 -3.5v7M484 285.5h7m-3.5 -3.5v7M484 292.5h7m-3.5 -3.5v7M484 306.5h7m-3.5 -3.5v7M484 287.5h7m-3.5 -3.5v7M485 288.5h7m-3.5 -3.5v7M485 284.5h7m-3.5 -3.5v7M485 289.5h7m-3.5 -3.5v7M485 286.5h7m-3.5 -3.5v7M486 302.5h7m-3.5 -3.5v7M486 286.5h7m-3.5 -3.5v7M486 285.5h7m-3.5 -3.5v7M486 288.5h7m-3.5 -3.5v7M486 289.5h7m-3.5 -3.5v7M487 283.5h7m-3.5 -3.5v7M487 282.5h7m-3.5 -3.5v7M487 284.5h7m-3.5 -3.5v7M487 286.5h7m-3.5 -3.5v7M487 287.5h7m-3.5 -3.5v7M488 287.5h7m-3.5 -3.5v7M488 290.5h7m-3.5 -3.5v7M488 285.5h7m-3.5 -3.5v7M489 290.5h7m-3.5 -3.5v7M489 286.5h7m-3.5 -3.5v7M489 285.5h7m-3.5 -3.5v7M489 282.5h7m-3.5 -3.5v7M490 286.5h7m-3.5 -3.5v7M490 287.5h7m-3.5 -3.5v7M490 284.5h7m-3.5 -3.5v7M490 294.5h7m-3.5 -3.5v7M490 285.5h7m-3.5 -3.5v7M491 288.5h7m-3.5 -3.5v7M491 285.5h7m-3.5 -3.5v7M491 286.5h7m-3.5 -3.5v7M491 284.5h7m-3.5 -3.5v7M491 283.5h7m-3.5 -3.5v7M492 282.5h7m-3.5 -3.5v7M492 286.5h7m-3.5 -3.5v7M492 287.5h7m-3.5 -3.5v7M492 288.5h7m-3.5 -3.5v7M493 285.5h7m-3.5 -3.5v7M493 287.5h7m-3.5 -3.5v7M493 284.5h7m-3.5 -3.5v7M493 296.5h7m-3.5 -3.5v7M493 290.5h7m-3.5 -3.5v7M494 287.5h7m-3.5 -3.5v7M494 285.5h7m-3.5 -3.5v7M494 286.5h7m-3.5 -3.5v7M494 284.5h7m-3.5 -3.5v7M495 282.5h7m-3.5 -3.5v7M495 289.5h7m-3.5 -3.5v7M495 287.5h7m-3.5 -3.5v7M495 283.5h7m-3.5 -3.5v7M495 284.5h7m-3.5 -3.5v7M495 290.5h7m-3.5 -3.5v7M496 286.5h7m-3.5 -3.5v7M496 285.5h7m-3.5 -3.5v7M496 284.5h7m-3.5 -3.5v7M496 296.5h7m-3.5 -3.5v7M496 282.5h7m-3.5 -3.5v7M496 287.5h7m-3.5 -3.5v7M497 285.5h7m-3.5 -3.5v7M497 286.5h7m-3.5 -3.5v7M497 287.5h7m-3.5 -3.5v7M497 283.5h7m-3.5 -3.5v7M497 284.5h7m-3.5 -3.5v7M498 285.5h7m-3.5 -3.5v7M498 287.5h7m-3.5 -3.5v7M498 284.5h7m-3.5 -3.5v7M498 288.5h7m-3.5 -3.5v7M499 287.5h7m-3.5 -3.5v7M499 284.5h7m-3.5 -3.5v7M499 288.5h7m-3.5 -3.5v7M499 285.5h7m-3.5 -3.5v7M500 283.5h7m-3.5 -3.5v7M500 285.5h7m-3.5 -3.5v7M500 286.5h7m-3.5 -3.5v7M500 307.5h7m-3.5 -3.5v7M500 284.5h7m-3.5 -3.5v7M501 284.5h7m-3.5 -3.5v7M501 286.5h7m-3.5 -3.5v7M501 285.5h7m-3.5 -3.5v7M501 287.5h7m-3.5 -3.5v7M502 286.5h7m-3.5 -3.5v7M502 285.5h7m-3.5 -3.5v7M502 284.5h7m-3.5 -3.5v7M502 283.5h7m-3.5 -3.5v7M502 287.5h7m-3.5 -3.5v7M502 289.5h7m-3.5 -3.5v7M503 284.5h7m-3.5 -3.5v7M503 315.5h7m-3.5 -3.5v7M503 285.5h7m-3.5 -3.5v7M503 286.5h7m-3.5 -3.5v7M503 288.5h7m-3.5 -3.5v7M504 286.5h7m-3.5 -3.5v7M504 289.5h7m-3.5 -3.5v7M504 287.5h7m-3.5 -3.5v7M504 288.5h7m-3.5 -3.5v7M505 287.5h7m-3.5 -3.5v7M505 288.5h7m-3.5 -3.5v7M505 304.5h7m-3.5 -3.5v7M505 286.5h7m-3.5 -3.5v7M506 285.5h7m-3.5 -3.5v7M506 287.5h7m-3.5 -3.5v7M506 283.5h7m-3.5 -3.5v7M506 286.5h7m-3.5 -3.5v7M507 287.5h7m-3.5 -3.5v7M507 284.5h7m-3.5 -3.5v7M507 283.5h7m-3.5 -3.5v7M507 288.5h7m-3.5 -3.5v7M508 284.5h7m-3.5 -3.5v7M508 341.5h7m-3.5 -3.5v7M508 283.5h7m-3.5 -3.5v7M508 289.5h7m-3.5 -3.5v7M508 286.5h7m-3.5 -3.5v7M509 284.5h7m-3.5 -3.5v7M509 288.5h7m-3.5 -3.5v7M509 290.5h7m-3.5 -3.5v7M509 285.5h7m-3.5 -3.5v7M509 282.5h7m-3.5 -3.5v7M509 287.5h7m-3.5 -3.5v7M510 283.5h7m-3.5 -3.5v7M510 300.5h7m-3.5 -3.5v7M510 285.5h7m-3.5 -3.5v7M510 287.5h7m-3.5 -3.5v7M511 284.5h7m-3.5 -3.5v7M511 288.5h7m-3.5 -3.5v7M511 309.5h7m-3.5 -3.5v7M511 285.5h7m-3.5 -3.5v7M512 285.5h7m-3.5 -3.5v7M512 283.5h7m-3.5 -3.5v7M512 284.5h7m-3.5 -3.5v7M512 286.5h7m-3.5 -3.5v7M513 283.5h7m-3.5 -3.5v7M513 309.5h7m-3.5 -3.5v7M513 285.5h7m-3.5 -3.5v7M513 310.5h7m-3.5 -3.5v7M513 282.5h7m-3.5 -3.5v7M513 286.5h7m-3.5 -3.5v7M514 287.5h7m-3.5 -3.5v7M514 283.5h7m-3.5 -3.5v7M514 288.5h7m-3.5 -3.5v7M514 286.5h7m-3.5 -3.5v7M515 284.5h7m-3.5 -3.5v7M515 290.5h7m-3.5 -3.5v7M515 286.5h7m-3.5 -3.5v7M515 288.5h7m-3.5 -3.5v7M515 299.5h7m-3.5 -3.5v7M515 287.5h7m-3.5 -3.5v7M516 284.5h7m-3.5 -3.5v7M516 286.5h7m-3.5 -3.5v7M516 288.5h7m-3.5 -3.5v7M516 283.5h7m-3.5 -3.5v7M517 286.5h7m-3.5 -3.5v7M517 287.5h7m-3.5 -3.5v7M517 296.5h7m-3.5 -3.5v7M517 288.5h7m-3.5 -3.5v7M518 287.5h7m-3.5 -3.5v7M518 284.5h7m-3.5 -3.5v7M518 285.5h7m-3.5 -3.5v7M518 286.5h7m-3.5 -3.5v7M519 284.5h7m-3.5 -3.5v7M519 286.5h7m-3.5 -3.5v7M519 302.5h7m-3.5 -3.5v7M519 285.5h7m-3.5 -3.5v7M520 285.5h7m-3.5 -3.5v7M520 286.5h7m-3.5 -3.5v7M520 284.5h7m-3.5 -3.5v7M520 287.5h7m-3.5 -3.5v7M521 289.5h7m-3.5 -3.5v7M521 285.5h7m-3.5 -3.5v7M521 292.5h7m-3.5 -3.5v7M521 299.5h7m-3.5 -3.5v7M521 284.5h7m-3.5 -3.5v7M522 286.5h7m-3.5 -3.5v7M522 285.5h7m-3.5 -3.5v7M522 283.5h7m-3.5 -3.5v7M522 287.5h7m-3.5 -3.5v7M523 283.5h7m-3.5 -3.5v7M523 284.5h7m-3.5 -3.5v7M523 286.5h7m-3.5 -3.5v7M523 287.5h7m-3.5 -3.5v7M523 285.5h7m-3.5 -3.5v7M524 283.5h7m-3.5 -3.5v7M524 298.5h7m-3.5 -3.5v7M524 286.5h7m-3.5 -3.5v7M524 289.5h7m-3.5 -3.5v7M524 284.5h7m-3.5 -3.5v7M525 292.5h7m-3.5 -3.5v7M525 285.5h7m-3.5 -3.5v7M525 286.5h7m-3.5 -3.5v7M525 287.5h7m-3.5 -3.5v7M525 281.5h7m-3.5 -3.5v7M526 288.5h7m-3.5 -3.5v7M526 287.5h7m-3.5 -3.5v7M526 284.5h7m-3.5 -3.5v7M526 286.5h7m-3.5 -3.5v7M527 284.5h7m-3.5 -3.5v7M527 288.5h7m-3.5 -3.5v7M527 300.5h7m-3.5 -3.5v7M527 286.5h7m-3.5 -3.5v7M527 285.5h7m-3.5 -3.5v7M528 284.5h7m-3.5 -3.5v7M528 285.5h7m-3.5 -3.5v7M528 286.5h7m-3.5 -3.5v7M529 286.5h7m-3.5 -3.5v7M529 283.5h7m-3.5 -3.5v7M529 282.5h7m-3.5 -3.5v7M529 284.5h7m-3.5 -3.5v7M529 287.5h7m-3.5 -3.5v7M530 285.5h7m-3.5 -3.5v7M530 292.5h7m-3.5 -3.5v7M530 296.5h7m-3.5 -3.5v7M530 287.5h7m-3.5 -3.5v7M530 295.5h7m-3.5 -3.5v7M531 282.5h7m-3.5 -3.5v7M531 287.5h7m-3.5 -3.5v7M531 286.5h7m-3.5 -3.5v7M531 284.5h7m-3.5 -3.5v7M532 286.5h7m-3.5 -3.5v7M532 289.5h7m-3.5 -3.5v7M532 283.5h7m-3.5 -3.5v7M532 282.5h7m-3.5 -3.5v7M533 286.5h7m-3.5 -3.5v7M533 283.5h7m-3.5 -3.5v7M533 287.5h7m-3.5 -3.5v7M533 284.5h7m-3.5 -3.5v7M534 284.5h7m-3.5 -3.5v7M534 297.5h7m-3.5 -3.5v7M534 285.5h7m-3.5 -3.5v7M534 282.5h7m-3.5 -3.5v7M534 300.5h7m-3.5 -3.5v7M535 284.5h7m-3.5 -3.5v7M535 291.5h7m-3.5 -3.5v7M535 285.5h7m-3.5 -3.5v7M535 282.5h7m-3.5 -3.5v7M535 288.5h7m-3.5 -3.5v7M536 285.5h7m-3.5 -3.5v7M536 310.5h7m-3.5 -3.5v7M536 283.5h7m-3.5 -3.5v7M536 288.5h7m-3.5 -3.5v7M536 284.5h7m-3.5 -3.5v7M537 284.5h7m-3.5 -3.5v7M537 290.5h7m-3.5 -3.5v7M537 298.5h7m-3.5 -3.5v7M537 286.5h7m-3.5 -3.5v7M537 283.5h7m-3.5 -3.5v7M537 287.5h7m-3.5 -3.5v7M538 288.5h7m-3.5 -3.5v7M538 286.5h7m-3.5 -3.5v7M538 283.5h7m-3.5 -3.5v7M538 299.5h7m-3.5 -3.5v7M538 281.5h7m-3.5 -3.5v7M539 286.5h7m-3.5 -3.5v7M539 297.5h7m-3.5 -3.5v7M539 284.5h7m-3.5 -3.5v7M539 285.5h7m-3.5 -3.5v7M539 283.5h7m-3.5 -3.5v7M540 294.5h7m-3.5 -3.5v7M540 285.5h7m-3.5 -3.5v7M540 286.5h7m-3.5 -3.5v7M540 284.5h7m-3.5 -3.5v7M541 284.5h7m-3.5 -3.5v7M541 287.5h7m-3.5 -3.5v7M541 288.5h7m-3.5 -3.5v7M542 283.5h7m-3.5 -3.5v7M542 287.5h7m-3.5 -3.5v7M542 286.5h7m-3.5 -3.5v7M542 284.5h7m-3.5 -3.5v7M542 295.5h7m-3.5 -3.5v7M543 284.5h7m-3.5 -3.5v7M543 282.5h7m-3.5 -3.5v7M543 288.5h7m-3.5 -3.5v7M543 286.5h7m-3.5 -3.5v7M543 292.5h7m-3.5 -3.5v7M544 284.5h7m-3.5 -3.5v7M544 286.5h7m-3.5 -3.5v7M544 285.5h7m-3.5 -3.5v7M544 283.5h7m-3.5 -3.5v7M544 287.5h7m-3.5 -3.5v7M545 284.5h7m-3.5 -3.5v7M545 285.5h7m-3.5 -3.5v7M545 296.5h7m-3.5 -3.5v7M545 286.5h7m-3.5 -3.5v7M545 288.5h7m-3.5 -3.5v7M546 284.5h7m-3.5 -3.5v7M546 285.5h7m-3.5 -3.5v7M547 284.5h7m-3.5 -3.5v7M547 285.5h7m-3.5 -3.5v7M547 288.5h7m-3.5 -3.5v7M547 286.5h7m-3.5 -3.5v7M547 292.5h7m-3.5 -3.5v7M548 288.5h7m-3.5 -3.5v7M548 286.5h7m-3.5 -3.5v7M548 303.5h7m-3.5 -3.5v7M548 287.5h7m-3.5 -3.5v7M548 284.5h7m-3.5 -3.5v7M548 285.5h7m-3.5 -3.5v7M549 286.5h7m-3.5 -3.5v7M549 283.5h7m-3.5 -3.5v7M549 287.5h7m-3.5 -3.5v7M550 287.5h7m-3.5 -3.5v7M550 286.5h7m-3.5 -3.5v7M550 285.5h7m-3.5 -3.5v7M551 286.5h7m-3.5 -3.5v7M551 295.5h7m-3.5 -3.5v7M551 284.5h7m-3.5 -3.5v7M551 288.5h7m-3.5 -3.5v7M551 285.5h7m-3.5 -3.5v7M552 285.5h7m-3.5 -3.5v7M552 286.5h7m-3.5 -3.5v7M552 287.5h7m-3.5 -3.5v7M552 288.5h7m-3.5 -3.5v7M552 289.5h7m-3.5 -3.5v7M553 289.5h7m-3.5 -3.5v7M553 287.5h7m-3.5 -3.5v7M553 285.5h7m-3.5 -3.5v7M553 286.5h7m-3.5 -3.5v7M554 328.5h7m-3.5 -3.5v7M554 329.5h7m-3.5 -3.5v7M554 333.5h7m-3.5 -3.5v7M554 331.5h7m-3.5 -3.5v7M555 329.5h7m-3.5 -3.5v7M555 328.5h7m-3.5 -3.5v7M555 327.5h7m-3.5 -3.5v7M555 332.5h7m-3.5 -3.5v7M555 330.5h7m-3.5 -3.5v7M556 330.5h7m-3.5 -3.5v7M556 332.5h7m-3.5 -3.5v7M556 328.5h7m-3.5 -3.5v7M556 329.5h7m-3.5 -3.5v7M557 329.5h7m-3.5 -3.5v7M557 328.5h7m-3.5 -3.5v7M557 327.5h7m-3.5 -3.5v7M557 330.5h7m-3.5 -3.5v7"/>
</g>
</svg>
</body></html>
